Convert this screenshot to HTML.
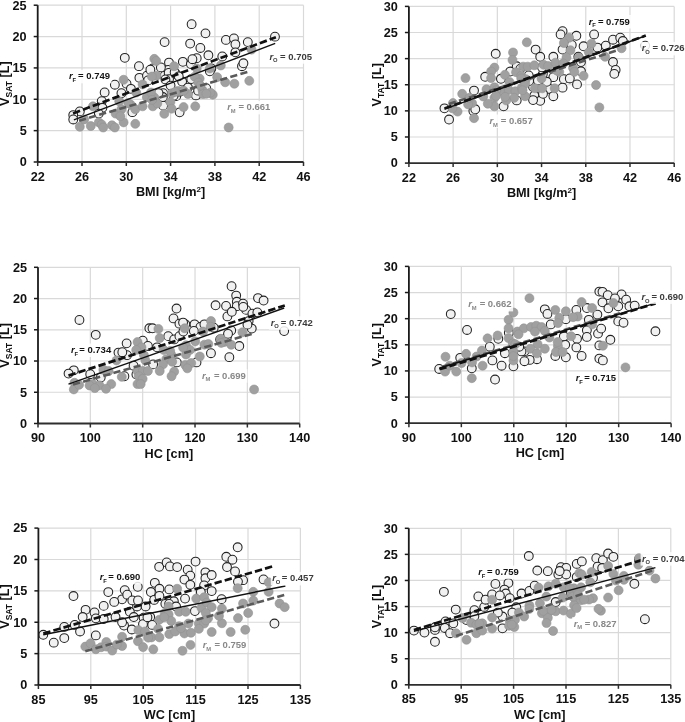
<!DOCTYPE html>
<html><head><meta charset="utf-8"><style>
html,body{margin:0;padding:0;background:#fff;}
body{width:685px;height:722px;overflow:hidden;}
svg{display:block;}
.t{font-family:"Liberation Sans",sans-serif;font-weight:bold;font-size:12.7px;fill:#111;}
.r{font-family:"Liberation Sans",sans-serif;font-weight:bold;font-size:9.5px;}
svg{will-change:transform;}
</style></head><body>
<svg width="685" height="722" viewBox="0 0 685 722">
<rect width="685" height="722" fill="#fff"/>
<line x1="37.7" y1="130.64" x2="303.5" y2="130.64" stroke="#d9d9d9" stroke-width="1.2"/>
<line x1="37.7" y1="99.28" x2="303.5" y2="99.28" stroke="#d9d9d9" stroke-width="1.2"/>
<line x1="37.7" y1="67.92" x2="303.5" y2="67.92" stroke="#d9d9d9" stroke-width="1.2"/>
<line x1="37.7" y1="36.56" x2="303.5" y2="36.56" stroke="#d9d9d9" stroke-width="1.2"/>
<line x1="37.7" y1="5.2" x2="303.5" y2="5.2" stroke="#d9d9d9" stroke-width="1.2"/>
<line x1="82" y1="162" x2="82" y2="5.2" stroke="#d9d9d9" stroke-width="1.2"/>
<line x1="126.3" y1="162" x2="126.3" y2="5.2" stroke="#d9d9d9" stroke-width="1.2"/>
<line x1="170.6" y1="162" x2="170.6" y2="5.2" stroke="#d9d9d9" stroke-width="1.2"/>
<line x1="214.9" y1="162" x2="214.9" y2="5.2" stroke="#d9d9d9" stroke-width="1.2"/>
<line x1="259.2" y1="162" x2="259.2" y2="5.2" stroke="#d9d9d9" stroke-width="1.2"/>
<line x1="303.5" y1="162" x2="303.5" y2="5.2" stroke="#d9d9d9" stroke-width="1.2"/>
<circle cx="124.79" cy="57.85" r="4.4" fill="#f1f1f1" stroke="#222" stroke-width="1.05"/>
<circle cx="138.95" cy="66.17" r="4.4" fill="#f1f1f1" stroke="#222" stroke-width="1.05"/>
<circle cx="152.82" cy="68.36" r="4.4" fill="#f1f1f1" stroke="#222" stroke-width="1.05"/>
<circle cx="139.39" cy="77.85" r="4.4" fill="#f1f1f1" stroke="#222" stroke-width="1.05"/>
<circle cx="146.98" cy="75.66" r="4.4" fill="#f1f1f1" stroke="#222" stroke-width="1.05"/>
<circle cx="114.86" cy="84.71" r="4.4" fill="#f1f1f1" stroke="#222" stroke-width="1.05"/>
<circle cx="104.64" cy="92.45" r="4.4" fill="#f1f1f1" stroke="#222" stroke-width="1.05"/>
<circle cx="121.43" cy="93.18" r="4.4" fill="#f1f1f1" stroke="#222" stroke-width="1.05"/>
<circle cx="126.54" cy="83.69" r="4.4" fill="#f1f1f1" stroke="#222" stroke-width="1.05"/>
<circle cx="130.92" cy="88.8" r="4.4" fill="#f1f1f1" stroke="#222" stroke-width="1.05"/>
<circle cx="101.72" cy="101.21" r="4.4" fill="#f1f1f1" stroke="#222" stroke-width="1.05"/>
<circle cx="102.45" cy="107.78" r="4.4" fill="#f1f1f1" stroke="#222" stroke-width="1.05"/>
<circle cx="79.82" cy="111.43" r="4.4" fill="#f1f1f1" stroke="#222" stroke-width="1.05"/>
<circle cx="73.25" cy="115.08" r="4.4" fill="#f1f1f1" stroke="#222" stroke-width="1.05"/>
<circle cx="73.25" cy="119.46" r="4.4" fill="#f1f1f1" stroke="#222" stroke-width="1.05"/>
<circle cx="98.8" cy="113.62" r="4.4" fill="#f1f1f1" stroke="#222" stroke-width="1.05"/>
<circle cx="132.38" cy="112.16" r="4.4" fill="#f1f1f1" stroke="#222" stroke-width="1.05"/>
<circle cx="191.61" cy="24.16" r="4.4" fill="#f1f1f1" stroke="#222" stroke-width="1.05"/>
<circle cx="205.48" cy="33.36" r="4.4" fill="#f1f1f1" stroke="#222" stroke-width="1.05"/>
<circle cx="164.6" cy="42.12" r="4.4" fill="#f1f1f1" stroke="#222" stroke-width="1.05"/>
<circle cx="190.15" cy="43.58" r="4.4" fill="#f1f1f1" stroke="#222" stroke-width="1.05"/>
<circle cx="200.37" cy="47.96" r="4.4" fill="#f1f1f1" stroke="#222" stroke-width="1.05"/>
<circle cx="225.92" cy="39.93" r="4.4" fill="#f1f1f1" stroke="#222" stroke-width="1.05"/>
<circle cx="233.95" cy="38.47" r="4.4" fill="#f1f1f1" stroke="#222" stroke-width="1.05"/>
<circle cx="235.41" cy="44.31" r="4.4" fill="#f1f1f1" stroke="#222" stroke-width="1.05"/>
<circle cx="247.82" cy="42.12" r="4.4" fill="#f1f1f1" stroke="#222" stroke-width="1.05"/>
<circle cx="235.41" cy="52.34" r="4.4" fill="#f1f1f1" stroke="#222" stroke-width="1.05"/>
<circle cx="222.27" cy="56.43" r="4.4" fill="#f1f1f1" stroke="#222" stroke-width="1.05"/>
<circle cx="208.4" cy="55.26" r="4.4" fill="#f1f1f1" stroke="#222" stroke-width="1.05"/>
<circle cx="196.72" cy="58.18" r="4.4" fill="#f1f1f1" stroke="#222" stroke-width="1.05"/>
<circle cx="182.85" cy="61.83" r="4.4" fill="#f1f1f1" stroke="#222" stroke-width="1.05"/>
<circle cx="168.98" cy="62.56" r="4.4" fill="#f1f1f1" stroke="#222" stroke-width="1.05"/>
<circle cx="155.84" cy="68.4" r="4.4" fill="#f1f1f1" stroke="#222" stroke-width="1.05"/>
<circle cx="168.25" cy="69.86" r="4.4" fill="#f1f1f1" stroke="#222" stroke-width="1.05"/>
<circle cx="190.88" cy="64.02" r="4.4" fill="#f1f1f1" stroke="#222" stroke-width="1.05"/>
<circle cx="211.32" cy="68.4" r="4.4" fill="#f1f1f1" stroke="#222" stroke-width="1.05"/>
<circle cx="209.86" cy="71.32" r="4.4" fill="#f1f1f1" stroke="#222" stroke-width="1.05"/>
<circle cx="241.98" cy="66.21" r="4.4" fill="#f1f1f1" stroke="#222" stroke-width="1.05"/>
<circle cx="243.44" cy="63.29" r="4.4" fill="#f1f1f1" stroke="#222" stroke-width="1.05"/>
<circle cx="182.12" cy="81.54" r="4.4" fill="#f1f1f1" stroke="#222" stroke-width="1.05"/>
<circle cx="193.8" cy="84.46" r="4.4" fill="#f1f1f1" stroke="#222" stroke-width="1.05"/>
<circle cx="198.18" cy="93.95" r="4.4" fill="#f1f1f1" stroke="#222" stroke-width="1.05"/>
<circle cx="206.21" cy="88.11" r="4.4" fill="#f1f1f1" stroke="#222" stroke-width="1.05"/>
<circle cx="176.28" cy="96.14" r="4.4" fill="#f1f1f1" stroke="#222" stroke-width="1.05"/>
<circle cx="163.14" cy="93.22" r="4.4" fill="#f1f1f1" stroke="#222" stroke-width="1.05"/>
<circle cx="163.14" cy="105.63" r="4.4" fill="#f1f1f1" stroke="#222" stroke-width="1.05"/>
<circle cx="176.28" cy="74.24" r="4.4" fill="#f1f1f1" stroke="#222" stroke-width="1.05"/>
<circle cx="164.6" cy="75.7" r="4.4" fill="#f1f1f1" stroke="#222" stroke-width="1.05"/>
<circle cx="274.96" cy="36.67" r="4.4" fill="#f1f1f1" stroke="#222" stroke-width="1.05"/>
<circle cx="179.64" cy="112.34" r="4.4" fill="#f1f1f1" stroke="#222" stroke-width="1.05"/>
<circle cx="162.85" cy="97.01" r="4.4" fill="#f1f1f1" stroke="#222" stroke-width="1.05"/>
<circle cx="168.69" cy="72.92" r="4.4" fill="#f1f1f1" stroke="#222" stroke-width="1.05"/>
<circle cx="192.42" cy="59.2" r="4.4" fill="#f1f1f1" stroke="#222" stroke-width="1.05"/>
<circle cx="150.37" cy="69.71" r="4.4" fill="#f1f1f1" stroke="#222" stroke-width="1.05"/>
<circle cx="160.88" cy="67.38" r="4.4" fill="#f1f1f1" stroke="#222" stroke-width="1.05"/>
<circle cx="169.06" cy="79.06" r="4.4" fill="#f1f1f1" stroke="#222" stroke-width="1.05"/>
<circle cx="191.25" cy="79.06" r="4.4" fill="#f1f1f1" stroke="#222" stroke-width="1.05"/>
<circle cx="195.92" cy="95.41" r="4.4" fill="#f1f1f1" stroke="#222" stroke-width="1.05"/>
<circle cx="158.54" cy="93.07" r="4.4" fill="#f1f1f1" stroke="#222" stroke-width="1.05"/>
<circle cx="174.64" cy="72.26" r="4.4" fill="#f1f1f1" stroke="#222" stroke-width="1.05"/>
<circle cx="178.73" cy="76.35" r="4.4" fill="#f1f1f1" stroke="#222" stroke-width="1.05"/>
<circle cx="198.14" cy="90.66" r="4.4" fill="#f1f1f1" stroke="#222" stroke-width="1.05"/>
<circle cx="165.44" cy="79.42" r="4.4" fill="#f1f1f1" stroke="#222" stroke-width="1.05"/>
<circle cx="173.62" cy="95.77" r="4.4" fill="#f1f1f1" stroke="#222" stroke-width="1.05"/>
<circle cx="179.75" cy="91.68" r="4.4" fill="#f1f1f1" stroke="#222" stroke-width="1.05"/>
<circle cx="148.07" cy="80.44" r="4.4" fill="#f1f1f1" stroke="#222" stroke-width="1.05"/>
<circle cx="170.55" cy="85.55" r="4.4" fill="#f1f1f1" stroke="#222" stroke-width="1.05"/>
<circle cx="187.92" cy="87.59" r="4.4" fill="#f1f1f1" stroke="#222" stroke-width="1.05"/>
<circle cx="123.62" cy="79.75" r="4.5" fill="#a0a0a0" stroke="#929292" stroke-width="0.6"/>
<circle cx="154.28" cy="58.87" r="4.5" fill="#a0a0a0" stroke="#929292" stroke-width="0.6"/>
<circle cx="142.6" cy="84.42" r="4.5" fill="#a0a0a0" stroke="#929292" stroke-width="0.6"/>
<circle cx="119.24" cy="101.21" r="4.5" fill="#a0a0a0" stroke="#929292" stroke-width="0.6"/>
<circle cx="115.59" cy="113.62" r="4.5" fill="#a0a0a0" stroke="#929292" stroke-width="0.6"/>
<circle cx="121.43" cy="109.24" r="4.5" fill="#a0a0a0" stroke="#929292" stroke-width="0.6"/>
<circle cx="130.92" cy="104.86" r="4.5" fill="#a0a0a0" stroke="#929292" stroke-width="0.6"/>
<circle cx="135.3" cy="109.24" r="4.5" fill="#a0a0a0" stroke="#929292" stroke-width="0.6"/>
<circle cx="142.6" cy="106.32" r="4.5" fill="#a0a0a0" stroke="#929292" stroke-width="0.6"/>
<circle cx="149.9" cy="97.56" r="4.5" fill="#a0a0a0" stroke="#929292" stroke-width="0.6"/>
<circle cx="152.82" cy="106.32" r="4.5" fill="#a0a0a0" stroke="#929292" stroke-width="0.6"/>
<circle cx="79.82" cy="126.76" r="4.5" fill="#a0a0a0" stroke="#929292" stroke-width="0.6"/>
<circle cx="90.77" cy="126.03" r="4.5" fill="#a0a0a0" stroke="#929292" stroke-width="0.6"/>
<circle cx="98.8" cy="122.38" r="4.5" fill="#a0a0a0" stroke="#929292" stroke-width="0.6"/>
<circle cx="101.72" cy="124.57" r="4.5" fill="#a0a0a0" stroke="#929292" stroke-width="0.6"/>
<circle cx="103.18" cy="127.49" r="4.5" fill="#a0a0a0" stroke="#929292" stroke-width="0.6"/>
<circle cx="111.94" cy="125.3" r="4.5" fill="#a0a0a0" stroke="#929292" stroke-width="0.6"/>
<circle cx="114.86" cy="127.49" r="4.5" fill="#a0a0a0" stroke="#929292" stroke-width="0.6"/>
<circle cx="123.62" cy="122.38" r="4.5" fill="#a0a0a0" stroke="#929292" stroke-width="0.6"/>
<circle cx="135.3" cy="123.84" r="4.5" fill="#a0a0a0" stroke="#929292" stroke-width="0.6"/>
<circle cx="92.96" cy="106.32" r="4.5" fill="#a0a0a0" stroke="#929292" stroke-width="0.6"/>
<circle cx="84.2" cy="119.46" r="4.5" fill="#a0a0a0" stroke="#929292" stroke-width="0.6"/>
<circle cx="174.09" cy="66.21" r="4.5" fill="#a0a0a0" stroke="#929292" stroke-width="0.6"/>
<circle cx="156.57" cy="75.7" r="4.5" fill="#a0a0a0" stroke="#929292" stroke-width="0.6"/>
<circle cx="196.72" cy="68.4" r="4.5" fill="#a0a0a0" stroke="#929292" stroke-width="0.6"/>
<circle cx="209.86" cy="68.4" r="4.5" fill="#a0a0a0" stroke="#929292" stroke-width="0.6"/>
<circle cx="220.81" cy="65.48" r="4.5" fill="#a0a0a0" stroke="#929292" stroke-width="0.6"/>
<circle cx="217.16" cy="77.16" r="4.5" fill="#a0a0a0" stroke="#929292" stroke-width="0.6"/>
<circle cx="225.19" cy="82.27" r="4.5" fill="#a0a0a0" stroke="#929292" stroke-width="0.6"/>
<circle cx="234.39" cy="83.73" r="4.5" fill="#a0a0a0" stroke="#929292" stroke-width="0.6"/>
<circle cx="249.28" cy="80.81" r="4.5" fill="#a0a0a0" stroke="#929292" stroke-width="0.6"/>
<circle cx="199.64" cy="78.62" r="4.5" fill="#a0a0a0" stroke="#929292" stroke-width="0.6"/>
<circle cx="202.56" cy="90.3" r="4.5" fill="#a0a0a0" stroke="#929292" stroke-width="0.6"/>
<circle cx="212.78" cy="94.68" r="4.5" fill="#a0a0a0" stroke="#929292" stroke-width="0.6"/>
<circle cx="187.96" cy="93.95" r="4.5" fill="#a0a0a0" stroke="#929292" stroke-width="0.6"/>
<circle cx="177.74" cy="91.03" r="4.5" fill="#a0a0a0" stroke="#929292" stroke-width="0.6"/>
<circle cx="171.9" cy="93.22" r="4.5" fill="#a0a0a0" stroke="#929292" stroke-width="0.6"/>
<circle cx="170.44" cy="101.98" r="4.5" fill="#a0a0a0" stroke="#929292" stroke-width="0.6"/>
<circle cx="183.58" cy="107.09" r="4.5" fill="#a0a0a0" stroke="#929292" stroke-width="0.6"/>
<circle cx="195.26" cy="106.36" r="4.5" fill="#a0a0a0" stroke="#929292" stroke-width="0.6"/>
<circle cx="154.38" cy="97.6" r="4.5" fill="#a0a0a0" stroke="#929292" stroke-width="0.6"/>
<circle cx="157.3" cy="103.44" r="4.5" fill="#a0a0a0" stroke="#929292" stroke-width="0.6"/>
<circle cx="251.53" cy="49.64" r="4.5" fill="#a0a0a0" stroke="#929292" stroke-width="0.6"/>
<circle cx="228.65" cy="127.49" r="4.5" fill="#a0a0a0" stroke="#929292" stroke-width="0.6"/>
<circle cx="164.31" cy="113.8" r="4.5" fill="#a0a0a0" stroke="#929292" stroke-width="0.6"/>
<circle cx="171.61" cy="108.69" r="4.5" fill="#a0a0a0" stroke="#929292" stroke-width="0.6"/>
<circle cx="203" cy="94.09" r="4.5" fill="#a0a0a0" stroke="#929292" stroke-width="0.6"/>
<circle cx="151.9" cy="76.57" r="4.5" fill="#a0a0a0" stroke="#929292" stroke-width="0.6"/>
<circle cx="175.26" cy="91.9" r="4.5" fill="#a0a0a0" stroke="#929292" stroke-width="0.6"/>
<circle cx="183.66" cy="90.74" r="4.5" fill="#a0a0a0" stroke="#929292" stroke-width="0.6"/>
<circle cx="194.75" cy="76.72" r="4.5" fill="#a0a0a0" stroke="#929292" stroke-width="0.6"/>
<circle cx="198.26" cy="82.56" r="4.5" fill="#a0a0a0" stroke="#929292" stroke-width="0.6"/>
<circle cx="146.86" cy="97.16" r="4.5" fill="#a0a0a0" stroke="#929292" stroke-width="0.6"/>
<circle cx="128.3" cy="103" r="4.5" fill="#a0a0a0" stroke="#929292" stroke-width="0.6"/>
<circle cx="136.2" cy="92.5" r="4.5" fill="#a0a0a0" stroke="#929292" stroke-width="0.6"/>
<circle cx="151.1" cy="92.5" r="4.5" fill="#a0a0a0" stroke="#929292" stroke-width="0.6"/>
<circle cx="120.4" cy="116.2" r="4.5" fill="#a0a0a0" stroke="#929292" stroke-width="0.6"/>
<circle cx="156.24" cy="61.02" r="4.5" fill="#a0a0a0" stroke="#929292" stroke-width="0.6"/>
<circle cx="200.19" cy="85.55" r="4.5" fill="#a0a0a0" stroke="#929292" stroke-width="0.6"/>
<circle cx="210.41" cy="92.7" r="4.5" fill="#a0a0a0" stroke="#929292" stroke-width="0.6"/>
<circle cx="206.32" cy="93.73" r="4.5" fill="#a0a0a0" stroke="#929292" stroke-width="0.6"/>
<circle cx="152.15" cy="99.86" r="4.5" fill="#a0a0a0" stroke="#929292" stroke-width="0.6"/>
<line x1="73.9" y1="119.9" x2="275.2" y2="43.4" stroke="#111" stroke-width="1.4"/>
<line x1="73.1" y1="113.4" x2="275.9" y2="37.2" stroke="#111" stroke-width="2.7" stroke-dasharray="7.4 3.1"/>
<line x1="79" y1="120.7" x2="248.2" y2="71.8" stroke="#5a5a5a" stroke-width="2.6" stroke-dasharray="7.2 3.3"/>
<line x1="37.7" y1="162" x2="303.5" y2="162" stroke="#2e2e2e" stroke-width="1.8"/>
<line x1="37.7" y1="162" x2="37.7" y2="5.2" stroke="#1a1a1a" stroke-width="1.8"/>
<line x1="33.7" y1="162" x2="37.7" y2="162" stroke="#1a1a1a" stroke-width="1.5"/>
<text x="26.7" y="166.3" text-anchor="end" class="t">0</text>
<line x1="33.7" y1="130.64" x2="37.7" y2="130.64" stroke="#1a1a1a" stroke-width="1.5"/>
<text x="26.7" y="134.94" text-anchor="end" class="t">5</text>
<line x1="33.7" y1="99.28" x2="37.7" y2="99.28" stroke="#1a1a1a" stroke-width="1.5"/>
<text x="26.7" y="103.58" text-anchor="end" class="t">10</text>
<line x1="33.7" y1="67.92" x2="37.7" y2="67.92" stroke="#1a1a1a" stroke-width="1.5"/>
<text x="26.7" y="72.22" text-anchor="end" class="t">15</text>
<line x1="33.7" y1="36.56" x2="37.7" y2="36.56" stroke="#1a1a1a" stroke-width="1.5"/>
<text x="26.7" y="40.86" text-anchor="end" class="t">20</text>
<line x1="33.7" y1="5.2" x2="37.7" y2="5.2" stroke="#1a1a1a" stroke-width="1.5"/>
<text x="26.7" y="9.5" text-anchor="end" class="t">25</text>
<line x1="37.7" y1="162" x2="37.7" y2="166" stroke="#2e2e2e" stroke-width="1.5"/>
<text x="37.7" y="180.6" text-anchor="middle" class="t">22</text>
<line x1="82" y1="162" x2="82" y2="166" stroke="#2e2e2e" stroke-width="1.5"/>
<text x="82" y="180.6" text-anchor="middle" class="t">26</text>
<line x1="126.3" y1="162" x2="126.3" y2="166" stroke="#2e2e2e" stroke-width="1.5"/>
<text x="126.3" y="180.6" text-anchor="middle" class="t">30</text>
<line x1="170.6" y1="162" x2="170.6" y2="166" stroke="#2e2e2e" stroke-width="1.5"/>
<text x="170.6" y="180.6" text-anchor="middle" class="t">34</text>
<line x1="214.9" y1="162" x2="214.9" y2="166" stroke="#2e2e2e" stroke-width="1.5"/>
<text x="214.9" y="180.6" text-anchor="middle" class="t">38</text>
<line x1="259.2" y1="162" x2="259.2" y2="166" stroke="#2e2e2e" stroke-width="1.5"/>
<text x="259.2" y="180.6" text-anchor="middle" class="t">42</text>
<line x1="303.5" y1="162" x2="303.5" y2="166" stroke="#2e2e2e" stroke-width="1.5"/>
<text x="303.5" y="180.6" text-anchor="middle" class="t">46</text>
<text x="170.6" y="196" text-anchor="middle" class="t">BMI [kg/m<tspan dy="-4" font-size="8">2</tspan><tspan dy="4">]</tspan></text>
<text transform="translate(8.6,83.6) rotate(-90)" text-anchor="middle" class="t">V<tspan font-size="8.5" dy="3">SAT</tspan><tspan dy="-3"> [L]</tspan></text>
<rect x="67.5" y="69.8" width="44" height="13.5" fill="#fff" fill-opacity="0.85"/>
<text x="69" y="79.3" class="r" fill="#141414" font-style="italic">r</text>
<text x="72.5" y="81.9" class="r" fill="#141414" style="font-size:5.8px">F</text>
<text x="110" y="79.3" class="r" fill="#141414" text-anchor="end">= 0.749</text>
<rect x="268.1" y="50.2" width="45.4" height="13.5" fill="#fff" fill-opacity="0.85"/>
<text x="269.6" y="59.7" class="r" fill="#3c3c3c" font-style="italic">r</text>
<text x="273.1" y="62.3" class="r" fill="#3c3c3c" style="font-size:5.8px">O</text>
<text x="312" y="59.7" class="r" fill="#3c3c3c" text-anchor="end">= 0.705</text>
<rect x="225.8" y="100.9" width="46.1" height="13.5" fill="#fff" fill-opacity="0.85"/>
<text x="227.3" y="110.4" class="r" fill="#888888" font-style="italic">r</text>
<text x="230.8" y="113" class="r" fill="#888888" style="font-size:5.8px">M</text>
<text x="270.4" y="110.4" class="r" fill="#888888" text-anchor="end">= 0.661</text>
<line x1="408.9" y1="136.98" x2="674.2" y2="136.98" stroke="#d9d9d9" stroke-width="1.2"/>
<line x1="408.9" y1="110.87" x2="674.2" y2="110.87" stroke="#d9d9d9" stroke-width="1.2"/>
<line x1="408.9" y1="84.75" x2="674.2" y2="84.75" stroke="#d9d9d9" stroke-width="1.2"/>
<line x1="408.9" y1="58.63" x2="674.2" y2="58.63" stroke="#d9d9d9" stroke-width="1.2"/>
<line x1="408.9" y1="32.52" x2="674.2" y2="32.52" stroke="#d9d9d9" stroke-width="1.2"/>
<line x1="408.9" y1="6.4" x2="674.2" y2="6.4" stroke="#d9d9d9" stroke-width="1.2"/>
<line x1="453.12" y1="163.1" x2="453.12" y2="6.4" stroke="#d9d9d9" stroke-width="1.2"/>
<line x1="497.33" y1="163.1" x2="497.33" y2="6.4" stroke="#d9d9d9" stroke-width="1.2"/>
<line x1="541.55" y1="163.1" x2="541.55" y2="6.4" stroke="#d9d9d9" stroke-width="1.2"/>
<line x1="585.77" y1="163.1" x2="585.77" y2="6.4" stroke="#d9d9d9" stroke-width="1.2"/>
<line x1="629.98" y1="163.1" x2="629.98" y2="6.4" stroke="#d9d9d9" stroke-width="1.2"/>
<line x1="674.2" y1="163.1" x2="674.2" y2="6.4" stroke="#d9d9d9" stroke-width="1.2"/>
<circle cx="495.7" cy="53.8" r="4.4" fill="#f1f1f1" stroke="#222" stroke-width="1.05"/>
<circle cx="485.19" cy="76.79" r="4.4" fill="#f1f1f1" stroke="#222" stroke-width="1.05"/>
<circle cx="500.96" cy="78.76" r="4.4" fill="#f1f1f1" stroke="#222" stroke-width="1.05"/>
<circle cx="474.02" cy="90.59" r="4.4" fill="#f1f1f1" stroke="#222" stroke-width="1.05"/>
<circle cx="444.45" cy="108.33" r="4.4" fill="#f1f1f1" stroke="#222" stroke-width="1.05"/>
<circle cx="449.05" cy="119.5" r="4.4" fill="#f1f1f1" stroke="#222" stroke-width="1.05"/>
<circle cx="473.36" cy="110.96" r="4.4" fill="#f1f1f1" stroke="#222" stroke-width="1.05"/>
<circle cx="503.58" cy="106.36" r="4.4" fill="#f1f1f1" stroke="#222" stroke-width="1.05"/>
<circle cx="516.72" cy="66.28" r="4.4" fill="#f1f1f1" stroke="#222" stroke-width="1.05"/>
<circle cx="510.15" cy="71.54" r="4.4" fill="#f1f1f1" stroke="#222" stroke-width="1.05"/>
<circle cx="516.72" cy="100.44" r="4.4" fill="#f1f1f1" stroke="#222" stroke-width="1.05"/>
<circle cx="562.56" cy="31.17" r="4.4" fill="#f1f1f1" stroke="#222" stroke-width="1.05"/>
<circle cx="560.59" cy="34.45" r="4.4" fill="#f1f1f1" stroke="#222" stroke-width="1.05"/>
<circle cx="576.36" cy="35.77" r="4.4" fill="#f1f1f1" stroke="#222" stroke-width="1.05"/>
<circle cx="594.1" cy="34.45" r="4.4" fill="#f1f1f1" stroke="#222" stroke-width="1.05"/>
<circle cx="535.62" cy="49.56" r="4.4" fill="#f1f1f1" stroke="#222" stroke-width="1.05"/>
<circle cx="540.22" cy="56.79" r="4.4" fill="#f1f1f1" stroke="#222" stroke-width="1.05"/>
<circle cx="553.36" cy="56.79" r="4.4" fill="#f1f1f1" stroke="#222" stroke-width="1.05"/>
<circle cx="571.76" cy="44.97" r="4.4" fill="#f1f1f1" stroke="#222" stroke-width="1.05"/>
<circle cx="562.56" cy="49.56" r="4.4" fill="#f1f1f1" stroke="#222" stroke-width="1.05"/>
<circle cx="583.58" cy="46.28" r="4.4" fill="#f1f1f1" stroke="#222" stroke-width="1.05"/>
<circle cx="597.38" cy="47.59" r="4.4" fill="#f1f1f1" stroke="#222" stroke-width="1.05"/>
<circle cx="578.33" cy="56.79" r="4.4" fill="#f1f1f1" stroke="#222" stroke-width="1.05"/>
<circle cx="580.96" cy="62.05" r="4.4" fill="#f1f1f1" stroke="#222" stroke-width="1.05"/>
<circle cx="520.51" cy="68.62" r="4.4" fill="#f1f1f1" stroke="#222" stroke-width="1.05"/>
<circle cx="542.85" cy="73.87" r="4.4" fill="#f1f1f1" stroke="#222" stroke-width="1.05"/>
<circle cx="553.36" cy="77.16" r="4.4" fill="#f1f1f1" stroke="#222" stroke-width="1.05"/>
<circle cx="563.87" cy="79.13" r="4.4" fill="#f1f1f1" stroke="#222" stroke-width="1.05"/>
<circle cx="569.79" cy="78.47" r="4.4" fill="#f1f1f1" stroke="#222" stroke-width="1.05"/>
<circle cx="577.01" cy="84.39" r="4.4" fill="#f1f1f1" stroke="#222" stroke-width="1.05"/>
<circle cx="562.56" cy="87.67" r="4.4" fill="#f1f1f1" stroke="#222" stroke-width="1.05"/>
<circle cx="549.42" cy="88.98" r="4.4" fill="#f1f1f1" stroke="#222" stroke-width="1.05"/>
<circle cx="553.36" cy="96.21" r="4.4" fill="#f1f1f1" stroke="#222" stroke-width="1.05"/>
<circle cx="534.31" cy="95.55" r="4.4" fill="#f1f1f1" stroke="#222" stroke-width="1.05"/>
<circle cx="540.22" cy="100.81" r="4.4" fill="#f1f1f1" stroke="#222" stroke-width="1.05"/>
<circle cx="580.96" cy="71.25" r="4.4" fill="#f1f1f1" stroke="#222" stroke-width="1.05"/>
<circle cx="546.79" cy="81.76" r="4.4" fill="#f1f1f1" stroke="#222" stroke-width="1.05"/>
<circle cx="605.77" cy="45.62" r="4.4" fill="#f1f1f1" stroke="#222" stroke-width="1.05"/>
<circle cx="613" cy="39.71" r="4.4" fill="#f1f1f1" stroke="#222" stroke-width="1.05"/>
<circle cx="620.22" cy="37.74" r="4.4" fill="#f1f1f1" stroke="#222" stroke-width="1.05"/>
<circle cx="622.85" cy="41.02" r="4.4" fill="#f1f1f1" stroke="#222" stroke-width="1.05"/>
<circle cx="613" cy="62.05" r="4.4" fill="#f1f1f1" stroke="#222" stroke-width="1.05"/>
<circle cx="615.62" cy="69.93" r="4.4" fill="#f1f1f1" stroke="#222" stroke-width="1.05"/>
<circle cx="614.31" cy="73.87" r="4.4" fill="#f1f1f1" stroke="#222" stroke-width="1.05"/>
<circle cx="645.19" cy="45.62" r="4.4" fill="#f1f1f1" stroke="#222" stroke-width="1.05"/>
<circle cx="533.07" cy="86.94" r="4.4" fill="#f1f1f1" stroke="#222" stroke-width="1.05"/>
<circle cx="533.07" cy="100.08" r="4.4" fill="#f1f1f1" stroke="#222" stroke-width="1.05"/>
<circle cx="475.26" cy="109.28" r="4.4" fill="#f1f1f1" stroke="#222" stroke-width="1.05"/>
<circle cx="529.13" cy="81.02" r="4.4" fill="#f1f1f1" stroke="#222" stroke-width="1.05"/>
<circle cx="542" cy="67.3" r="4.4" fill="#f1f1f1" stroke="#222" stroke-width="1.05"/>
<circle cx="543" cy="93.8" r="4.4" fill="#f1f1f1" stroke="#222" stroke-width="1.05"/>
<circle cx="528.7" cy="75.4" r="4.4" fill="#f1f1f1" stroke="#222" stroke-width="1.05"/>
<circle cx="537.9" cy="80.6" r="4.4" fill="#f1f1f1" stroke="#222" stroke-width="1.05"/>
<circle cx="513.04" cy="52.48" r="4.5" fill="#a0a0a0" stroke="#929292" stroke-width="0.6"/>
<circle cx="512.52" cy="59.97" r="4.5" fill="#a0a0a0" stroke="#929292" stroke-width="0.6"/>
<circle cx="494.39" cy="67.59" r="4.5" fill="#a0a0a0" stroke="#929292" stroke-width="0.6"/>
<circle cx="491.1" cy="71.54" r="4.5" fill="#a0a0a0" stroke="#929292" stroke-width="0.6"/>
<circle cx="491.1" cy="78.11" r="4.5" fill="#a0a0a0" stroke="#929292" stroke-width="0.6"/>
<circle cx="465.48" cy="78.11" r="4.5" fill="#a0a0a0" stroke="#929292" stroke-width="0.6"/>
<circle cx="462.19" cy="93.87" r="4.5" fill="#a0a0a0" stroke="#929292" stroke-width="0.6"/>
<circle cx="504.9" cy="74.82" r="4.5" fill="#a0a0a0" stroke="#929292" stroke-width="0.6"/>
<circle cx="509.5" cy="82.05" r="4.5" fill="#a0a0a0" stroke="#929292" stroke-width="0.6"/>
<circle cx="516.07" cy="72.19" r="4.5" fill="#a0a0a0" stroke="#929292" stroke-width="0.6"/>
<circle cx="486.5" cy="89.28" r="4.5" fill="#a0a0a0" stroke="#929292" stroke-width="0.6"/>
<circle cx="494.39" cy="87.3" r="4.5" fill="#a0a0a0" stroke="#929292" stroke-width="0.6"/>
<circle cx="500.96" cy="91.25" r="4.5" fill="#a0a0a0" stroke="#929292" stroke-width="0.6"/>
<circle cx="508.84" cy="89.93" r="4.5" fill="#a0a0a0" stroke="#929292" stroke-width="0.6"/>
<circle cx="515.41" cy="91.25" r="4.5" fill="#a0a0a0" stroke="#929292" stroke-width="0.6"/>
<circle cx="514.1" cy="97.82" r="4.5" fill="#a0a0a0" stroke="#929292" stroke-width="0.6"/>
<circle cx="506.21" cy="100.44" r="4.5" fill="#a0a0a0" stroke="#929292" stroke-width="0.6"/>
<circle cx="494.39" cy="97.82" r="4.5" fill="#a0a0a0" stroke="#929292" stroke-width="0.6"/>
<circle cx="494.39" cy="106.36" r="4.5" fill="#a0a0a0" stroke="#929292" stroke-width="0.6"/>
<circle cx="487.82" cy="103.73" r="4.5" fill="#a0a0a0" stroke="#929292" stroke-width="0.6"/>
<circle cx="483.22" cy="96.5" r="4.5" fill="#a0a0a0" stroke="#929292" stroke-width="0.6"/>
<circle cx="472.05" cy="103.07" r="4.5" fill="#a0a0a0" stroke="#929292" stroke-width="0.6"/>
<circle cx="468.11" cy="104.39" r="4.5" fill="#a0a0a0" stroke="#929292" stroke-width="0.6"/>
<circle cx="474.02" cy="118.18" r="4.5" fill="#a0a0a0" stroke="#929292" stroke-width="0.6"/>
<circle cx="457.59" cy="111.61" r="4.5" fill="#a0a0a0" stroke="#929292" stroke-width="0.6"/>
<circle cx="452.34" cy="108.33" r="4.5" fill="#a0a0a0" stroke="#929292" stroke-width="0.6"/>
<circle cx="453" cy="103.07" r="4.5" fill="#a0a0a0" stroke="#929292" stroke-width="0.6"/>
<circle cx="469.42" cy="97.82" r="4.5" fill="#a0a0a0" stroke="#929292" stroke-width="0.6"/>
<circle cx="526.82" cy="42.34" r="4.5" fill="#a0a0a0" stroke="#929292" stroke-width="0.6"/>
<circle cx="569.13" cy="37.74" r="4.5" fill="#a0a0a0" stroke="#929292" stroke-width="0.6"/>
<circle cx="563.87" cy="42.99" r="4.5" fill="#a0a0a0" stroke="#929292" stroke-width="0.6"/>
<circle cx="570.44" cy="50.22" r="4.5" fill="#a0a0a0" stroke="#929292" stroke-width="0.6"/>
<circle cx="566.5" cy="57.45" r="4.5" fill="#a0a0a0" stroke="#929292" stroke-width="0.6"/>
<circle cx="591.47" cy="43.65" r="4.5" fill="#a0a0a0" stroke="#929292" stroke-width="0.6"/>
<circle cx="588.84" cy="52.19" r="4.5" fill="#a0a0a0" stroke="#929292" stroke-width="0.6"/>
<circle cx="578.99" cy="57.45" r="4.5" fill="#a0a0a0" stroke="#929292" stroke-width="0.6"/>
<circle cx="523.14" cy="66.65" r="4.5" fill="#a0a0a0" stroke="#929292" stroke-width="0.6"/>
<circle cx="527.74" cy="66.65" r="4.5" fill="#a0a0a0" stroke="#929292" stroke-width="0.6"/>
<circle cx="534.31" cy="65.33" r="4.5" fill="#a0a0a0" stroke="#929292" stroke-width="0.6"/>
<circle cx="543.51" cy="64.68" r="4.5" fill="#a0a0a0" stroke="#929292" stroke-width="0.6"/>
<circle cx="548.11" cy="65.99" r="4.5" fill="#a0a0a0" stroke="#929292" stroke-width="0.6"/>
<circle cx="555.33" cy="62.7" r="4.5" fill="#a0a0a0" stroke="#929292" stroke-width="0.6"/>
<circle cx="563.22" cy="63.36" r="4.5" fill="#a0a0a0" stroke="#929292" stroke-width="0.6"/>
<circle cx="559.27" cy="71.9" r="4.5" fill="#a0a0a0" stroke="#929292" stroke-width="0.6"/>
<circle cx="573.07" cy="67.96" r="4.5" fill="#a0a0a0" stroke="#929292" stroke-width="0.6"/>
<circle cx="574.39" cy="71.9" r="4.5" fill="#a0a0a0" stroke="#929292" stroke-width="0.6"/>
<circle cx="583.58" cy="75.84" r="4.5" fill="#a0a0a0" stroke="#929292" stroke-width="0.6"/>
<circle cx="521.17" cy="75.84" r="4.5" fill="#a0a0a0" stroke="#929292" stroke-width="0.6"/>
<circle cx="525.77" cy="79.13" r="4.5" fill="#a0a0a0" stroke="#929292" stroke-width="0.6"/>
<circle cx="541.54" cy="78.47" r="4.5" fill="#a0a0a0" stroke="#929292" stroke-width="0.6"/>
<circle cx="534.97" cy="88.33" r="4.5" fill="#a0a0a0" stroke="#929292" stroke-width="0.6"/>
<circle cx="542.19" cy="88.33" r="4.5" fill="#a0a0a0" stroke="#929292" stroke-width="0.6"/>
<circle cx="554.68" cy="88.33" r="4.5" fill="#a0a0a0" stroke="#929292" stroke-width="0.6"/>
<circle cx="521.83" cy="87.67" r="4.5" fill="#a0a0a0" stroke="#929292" stroke-width="0.6"/>
<circle cx="525.11" cy="96.21" r="4.5" fill="#a0a0a0" stroke="#929292" stroke-width="0.6"/>
<circle cx="596.07" cy="85.04" r="4.5" fill="#a0a0a0" stroke="#929292" stroke-width="0.6"/>
<circle cx="599.35" cy="107.38" r="4.5" fill="#a0a0a0" stroke="#929292" stroke-width="0.6"/>
<circle cx="605.11" cy="56.79" r="4.5" fill="#a0a0a0" stroke="#929292" stroke-width="0.6"/>
<circle cx="621.54" cy="48.25" r="4.5" fill="#a0a0a0" stroke="#929292" stroke-width="0.6"/>
<circle cx="556.72" cy="70.51" r="4.5" fill="#a0a0a0" stroke="#929292" stroke-width="0.6"/>
<circle cx="521.25" cy="78.4" r="4.5" fill="#a0a0a0" stroke="#929292" stroke-width="0.6"/>
<circle cx="525.19" cy="83.65" r="4.5" fill="#a0a0a0" stroke="#929292" stroke-width="0.6"/>
<circle cx="496.28" cy="90.22" r="4.5" fill="#a0a0a0" stroke="#929292" stroke-width="0.6"/>
<circle cx="522.56" cy="90.22" r="4.5" fill="#a0a0a0" stroke="#929292" stroke-width="0.6"/>
<circle cx="505.2" cy="96.9" r="4.5" fill="#a0a0a0" stroke="#929292" stroke-width="0.6"/>
<circle cx="496" cy="95.9" r="4.5" fill="#a0a0a0" stroke="#929292" stroke-width="0.6"/>
<line x1="448.9" y1="104" x2="616" y2="50.7" stroke="#5a5a5a" stroke-width="2.6" stroke-dasharray="7.2 3.3"/>
<line x1="444.5" y1="109.1" x2="645" y2="36" stroke="#111" stroke-width="1.4"/>
<line x1="444.5" y1="108.5" x2="645.8" y2="35.5" stroke="#111" stroke-width="2.7" stroke-dasharray="7.4 3.1"/>
<line x1="408.9" y1="163.1" x2="674.2" y2="163.1" stroke="#2e2e2e" stroke-width="1.8"/>
<line x1="408.9" y1="163.1" x2="408.9" y2="6.4" stroke="#1a1a1a" stroke-width="1.8"/>
<line x1="404.9" y1="163.1" x2="408.9" y2="163.1" stroke="#1a1a1a" stroke-width="1.5"/>
<text x="397.9" y="167.4" text-anchor="end" class="t">0</text>
<line x1="404.9" y1="136.98" x2="408.9" y2="136.98" stroke="#1a1a1a" stroke-width="1.5"/>
<text x="397.9" y="141.28" text-anchor="end" class="t">5</text>
<line x1="404.9" y1="110.87" x2="408.9" y2="110.87" stroke="#1a1a1a" stroke-width="1.5"/>
<text x="397.9" y="115.17" text-anchor="end" class="t">10</text>
<line x1="404.9" y1="84.75" x2="408.9" y2="84.75" stroke="#1a1a1a" stroke-width="1.5"/>
<text x="397.9" y="89.05" text-anchor="end" class="t">15</text>
<line x1="404.9" y1="58.63" x2="408.9" y2="58.63" stroke="#1a1a1a" stroke-width="1.5"/>
<text x="397.9" y="62.93" text-anchor="end" class="t">20</text>
<line x1="404.9" y1="32.52" x2="408.9" y2="32.52" stroke="#1a1a1a" stroke-width="1.5"/>
<text x="397.9" y="36.82" text-anchor="end" class="t">25</text>
<line x1="404.9" y1="6.4" x2="408.9" y2="6.4" stroke="#1a1a1a" stroke-width="1.5"/>
<text x="397.9" y="10.7" text-anchor="end" class="t">30</text>
<line x1="408.9" y1="163.1" x2="408.9" y2="167.1" stroke="#2e2e2e" stroke-width="1.5"/>
<text x="408.9" y="181.7" text-anchor="middle" class="t">22</text>
<line x1="453.12" y1="163.1" x2="453.12" y2="167.1" stroke="#2e2e2e" stroke-width="1.5"/>
<text x="453.12" y="181.7" text-anchor="middle" class="t">26</text>
<line x1="497.33" y1="163.1" x2="497.33" y2="167.1" stroke="#2e2e2e" stroke-width="1.5"/>
<text x="497.33" y="181.7" text-anchor="middle" class="t">30</text>
<line x1="541.55" y1="163.1" x2="541.55" y2="167.1" stroke="#2e2e2e" stroke-width="1.5"/>
<text x="541.55" y="181.7" text-anchor="middle" class="t">34</text>
<line x1="585.77" y1="163.1" x2="585.77" y2="167.1" stroke="#2e2e2e" stroke-width="1.5"/>
<text x="585.77" y="181.7" text-anchor="middle" class="t">38</text>
<line x1="629.98" y1="163.1" x2="629.98" y2="167.1" stroke="#2e2e2e" stroke-width="1.5"/>
<text x="629.98" y="181.7" text-anchor="middle" class="t">42</text>
<line x1="674.2" y1="163.1" x2="674.2" y2="167.1" stroke="#2e2e2e" stroke-width="1.5"/>
<text x="674.2" y="181.7" text-anchor="middle" class="t">46</text>
<text x="541.55" y="197.1" text-anchor="middle" class="t">BMI [kg/m<tspan dy="-4" font-size="8">2</tspan><tspan dy="4">]</tspan></text>
<text transform="translate(381,84.75) rotate(-90)" text-anchor="middle" class="t">V<tspan font-size="8.5" dy="3">TAT</tspan><tspan dy="-3"> [L]</tspan></text>
<rect x="587.3" y="15" width="44.1" height="13.5" fill="#fff" fill-opacity="0.85"/>
<text x="588.8" y="24.5" class="r" fill="#141414" font-style="italic">r</text>
<text x="592.3" y="27.1" class="r" fill="#141414" style="font-size:5.8px">F</text>
<text x="629.9" y="24.5" class="r" fill="#141414" text-anchor="end">= 0.759</text>
<rect x="640.3" y="41.9" width="45.7" height="13.5" fill="#fff" fill-opacity="0.85"/>
<text x="641.8" y="51.4" class="r" fill="#3c3c3c" font-style="italic">r</text>
<text x="645.3" y="54" class="r" fill="#3c3c3c" style="font-size:5.8px">O</text>
<text x="684.5" y="51.4" class="r" fill="#3c3c3c" text-anchor="end">= 0.726</text>
<rect x="488" y="114.5" width="46.2" height="13.5" fill="#fff" fill-opacity="0.85"/>
<text x="489.5" y="124" class="r" fill="#888888" font-style="italic">r</text>
<text x="493" y="126.6" class="r" fill="#888888" style="font-size:5.8px">M</text>
<text x="532.7" y="124" class="r" fill="#888888" text-anchor="end">= 0.657</text>
<line x1="38" y1="392.26" x2="299.7" y2="392.26" stroke="#d9d9d9" stroke-width="1.2"/>
<line x1="38" y1="361.02" x2="299.7" y2="361.02" stroke="#d9d9d9" stroke-width="1.2"/>
<line x1="38" y1="329.78" x2="299.7" y2="329.78" stroke="#d9d9d9" stroke-width="1.2"/>
<line x1="38" y1="298.54" x2="299.7" y2="298.54" stroke="#d9d9d9" stroke-width="1.2"/>
<line x1="38" y1="267.3" x2="299.7" y2="267.3" stroke="#d9d9d9" stroke-width="1.2"/>
<line x1="90.34" y1="423.5" x2="90.34" y2="267.3" stroke="#d9d9d9" stroke-width="1.2"/>
<line x1="142.68" y1="423.5" x2="142.68" y2="267.3" stroke="#d9d9d9" stroke-width="1.2"/>
<line x1="195.02" y1="423.5" x2="195.02" y2="267.3" stroke="#d9d9d9" stroke-width="1.2"/>
<line x1="247.36" y1="423.5" x2="247.36" y2="267.3" stroke="#d9d9d9" stroke-width="1.2"/>
<line x1="299.7" y1="423.5" x2="299.7" y2="267.3" stroke="#d9d9d9" stroke-width="1.2"/>
<circle cx="79.45" cy="319.97" r="4.4" fill="#f1f1f1" stroke="#222" stroke-width="1.05"/>
<circle cx="95.74" cy="334.82" r="4.4" fill="#f1f1f1" stroke="#222" stroke-width="1.05"/>
<circle cx="149.35" cy="328.25" r="4.4" fill="#f1f1f1" stroke="#222" stroke-width="1.05"/>
<circle cx="126.62" cy="343.36" r="4.4" fill="#f1f1f1" stroke="#222" stroke-width="1.05"/>
<circle cx="142.78" cy="340.73" r="4.4" fill="#f1f1f1" stroke="#222" stroke-width="1.05"/>
<circle cx="118.47" cy="352.56" r="4.4" fill="#f1f1f1" stroke="#222" stroke-width="1.05"/>
<circle cx="127.01" cy="355.19" r="4.4" fill="#f1f1f1" stroke="#222" stroke-width="1.05"/>
<circle cx="73.8" cy="370.3" r="4.4" fill="#f1f1f1" stroke="#222" stroke-width="1.05"/>
<circle cx="68.54" cy="373.58" r="4.4" fill="#f1f1f1" stroke="#222" stroke-width="1.05"/>
<circle cx="90.22" cy="374.24" r="4.4" fill="#f1f1f1" stroke="#222" stroke-width="1.05"/>
<circle cx="100.73" cy="377.53" r="4.4" fill="#f1f1f1" stroke="#222" stroke-width="1.05"/>
<circle cx="124.39" cy="376.21" r="4.4" fill="#f1f1f1" stroke="#222" stroke-width="1.05"/>
<circle cx="133.58" cy="365.7" r="4.4" fill="#f1f1f1" stroke="#222" stroke-width="1.05"/>
<circle cx="176.53" cy="308.54" r="4.4" fill="#f1f1f1" stroke="#222" stroke-width="1.05"/>
<circle cx="173.51" cy="318.4" r="4.4" fill="#f1f1f1" stroke="#222" stroke-width="1.05"/>
<circle cx="179.42" cy="323.65" r="4.4" fill="#f1f1f1" stroke="#222" stroke-width="1.05"/>
<circle cx="185.33" cy="324.31" r="4.4" fill="#f1f1f1" stroke="#222" stroke-width="1.05"/>
<circle cx="194.53" cy="324.31" r="4.4" fill="#f1f1f1" stroke="#222" stroke-width="1.05"/>
<circle cx="200.44" cy="326.94" r="4.4" fill="#f1f1f1" stroke="#222" stroke-width="1.05"/>
<circle cx="204.39" cy="324.31" r="4.4" fill="#f1f1f1" stroke="#222" stroke-width="1.05"/>
<circle cx="215.56" cy="305.26" r="4.4" fill="#f1f1f1" stroke="#222" stroke-width="1.05"/>
<circle cx="226.07" cy="305.91" r="4.4" fill="#f1f1f1" stroke="#222" stroke-width="1.05"/>
<circle cx="227.38" cy="316.43" r="4.4" fill="#f1f1f1" stroke="#222" stroke-width="1.05"/>
<circle cx="152.48" cy="328.25" r="4.4" fill="#f1f1f1" stroke="#222" stroke-width="1.05"/>
<circle cx="168.25" cy="336.13" r="4.4" fill="#f1f1f1" stroke="#222" stroke-width="1.05"/>
<circle cx="174.16" cy="339.42" r="4.4" fill="#f1f1f1" stroke="#222" stroke-width="1.05"/>
<circle cx="179.42" cy="336.13" r="4.4" fill="#f1f1f1" stroke="#222" stroke-width="1.05"/>
<circle cx="183.36" cy="331.54" r="4.4" fill="#f1f1f1" stroke="#222" stroke-width="1.05"/>
<circle cx="193.87" cy="330.88" r="4.4" fill="#f1f1f1" stroke="#222" stroke-width="1.05"/>
<circle cx="147.88" cy="345.99" r="4.4" fill="#f1f1f1" stroke="#222" stroke-width="1.05"/>
<circle cx="157.08" cy="347.3" r="4.4" fill="#f1f1f1" stroke="#222" stroke-width="1.05"/>
<circle cx="210.96" cy="353.22" r="4.4" fill="#f1f1f1" stroke="#222" stroke-width="1.05"/>
<circle cx="229.35" cy="357.16" r="4.4" fill="#f1f1f1" stroke="#222" stroke-width="1.05"/>
<circle cx="196.5" cy="362.41" r="4.4" fill="#f1f1f1" stroke="#222" stroke-width="1.05"/>
<circle cx="176.79" cy="362.41" r="4.4" fill="#f1f1f1" stroke="#222" stroke-width="1.05"/>
<circle cx="153.14" cy="364.39" r="4.4" fill="#f1f1f1" stroke="#222" stroke-width="1.05"/>
<circle cx="220.15" cy="339.42" r="4.4" fill="#f1f1f1" stroke="#222" stroke-width="1.05"/>
<circle cx="231.57" cy="286.21" r="4.4" fill="#f1f1f1" stroke="#222" stroke-width="1.05"/>
<circle cx="236.18" cy="295.56" r="4.4" fill="#f1f1f1" stroke="#222" stroke-width="1.05"/>
<circle cx="257.99" cy="298.05" r="4.4" fill="#f1f1f1" stroke="#222" stroke-width="1.05"/>
<circle cx="263.59" cy="300.54" r="4.4" fill="#f1f1f1" stroke="#222" stroke-width="1.05"/>
<circle cx="236.81" cy="301.79" r="4.4" fill="#f1f1f1" stroke="#222" stroke-width="1.05"/>
<circle cx="236.81" cy="306.15" r="4.4" fill="#f1f1f1" stroke="#222" stroke-width="1.05"/>
<circle cx="243.03" cy="303.66" r="4.4" fill="#f1f1f1" stroke="#222" stroke-width="1.05"/>
<circle cx="246.15" cy="309.89" r="4.4" fill="#f1f1f1" stroke="#222" stroke-width="1.05"/>
<circle cx="231.82" cy="311.76" r="4.4" fill="#f1f1f1" stroke="#222" stroke-width="1.05"/>
<circle cx="252.38" cy="313.63" r="4.4" fill="#f1f1f1" stroke="#222" stroke-width="1.05"/>
<circle cx="257.36" cy="312.38" r="4.4" fill="#f1f1f1" stroke="#222" stroke-width="1.05"/>
<circle cx="248.64" cy="321.1" r="4.4" fill="#f1f1f1" stroke="#222" stroke-width="1.05"/>
<circle cx="251.76" cy="328.58" r="4.4" fill="#f1f1f1" stroke="#222" stroke-width="1.05"/>
<circle cx="231.2" cy="330.45" r="4.4" fill="#f1f1f1" stroke="#222" stroke-width="1.05"/>
<circle cx="226.84" cy="337.3" r="4.4" fill="#f1f1f1" stroke="#222" stroke-width="1.05"/>
<circle cx="239.3" cy="346.02" r="4.4" fill="#f1f1f1" stroke="#222" stroke-width="1.05"/>
<circle cx="284.15" cy="331.07" r="4.4" fill="#f1f1f1" stroke="#222" stroke-width="1.05"/>
<circle cx="243.26" cy="306.86" r="4.4" fill="#f1f1f1" stroke="#222" stroke-width="1.05"/>
<circle cx="122.3" cy="352.2" r="4.4" fill="#f1f1f1" stroke="#222" stroke-width="1.05"/>
<circle cx="136.4" cy="374.4" r="4.4" fill="#f1f1f1" stroke="#222" stroke-width="1.05"/>
<circle cx="183.07" cy="322.59" r="4.4" fill="#f1f1f1" stroke="#222" stroke-width="1.05"/>
<circle cx="228.03" cy="333.84" r="4.4" fill="#f1f1f1" stroke="#222" stroke-width="1.05"/>
<circle cx="247.45" cy="324.64" r="4.4" fill="#f1f1f1" stroke="#222" stroke-width="1.05"/>
<circle cx="213.73" cy="327.7" r="4.4" fill="#f1f1f1" stroke="#222" stroke-width="1.05"/>
<circle cx="137.53" cy="342.05" r="4.5" fill="#a0a0a0" stroke="#929292" stroke-width="0.6"/>
<circle cx="141.47" cy="347.3" r="4.5" fill="#a0a0a0" stroke="#929292" stroke-width="0.6"/>
<circle cx="136.21" cy="349.93" r="4.5" fill="#a0a0a0" stroke="#929292" stroke-width="0.6"/>
<circle cx="116.5" cy="360.44" r="4.5" fill="#a0a0a0" stroke="#929292" stroke-width="0.6"/>
<circle cx="103.36" cy="369.64" r="4.5" fill="#a0a0a0" stroke="#929292" stroke-width="0.6"/>
<circle cx="108.62" cy="370.96" r="4.5" fill="#a0a0a0" stroke="#929292" stroke-width="0.6"/>
<circle cx="121.76" cy="376.87" r="4.5" fill="#a0a0a0" stroke="#929292" stroke-width="0.6"/>
<circle cx="137.53" cy="370.96" r="4.5" fill="#a0a0a0" stroke="#929292" stroke-width="0.6"/>
<circle cx="142.78" cy="370.96" r="4.5" fill="#a0a0a0" stroke="#929292" stroke-width="0.6"/>
<circle cx="138.84" cy="376.21" r="4.5" fill="#a0a0a0" stroke="#929292" stroke-width="0.6"/>
<circle cx="137.53" cy="384.1" r="4.5" fill="#a0a0a0" stroke="#929292" stroke-width="0.6"/>
<circle cx="74.45" cy="382.78" r="4.5" fill="#a0a0a0" stroke="#929292" stroke-width="0.6"/>
<circle cx="92.85" cy="384.1" r="4.5" fill="#a0a0a0" stroke="#929292" stroke-width="0.6"/>
<circle cx="99.42" cy="385.41" r="4.5" fill="#a0a0a0" stroke="#929292" stroke-width="0.6"/>
<circle cx="111.25" cy="384.1" r="4.5" fill="#a0a0a0" stroke="#929292" stroke-width="0.6"/>
<circle cx="145.41" cy="360.44" r="4.5" fill="#a0a0a0" stroke="#929292" stroke-width="0.6"/>
<circle cx="73.8" cy="389.42" r="4.5" fill="#a0a0a0" stroke="#929292" stroke-width="0.6"/>
<circle cx="79.05" cy="384.82" r="4.5" fill="#a0a0a0" stroke="#929292" stroke-width="0.6"/>
<circle cx="89.56" cy="385.48" r="4.5" fill="#a0a0a0" stroke="#929292" stroke-width="0.6"/>
<circle cx="94.82" cy="388.11" r="4.5" fill="#a0a0a0" stroke="#929292" stroke-width="0.6"/>
<circle cx="105.99" cy="388.76" r="4.5" fill="#a0a0a0" stroke="#929292" stroke-width="0.6"/>
<circle cx="158.4" cy="328.91" r="4.5" fill="#a0a0a0" stroke="#929292" stroke-width="0.6"/>
<circle cx="184.68" cy="328.25" r="4.5" fill="#a0a0a0" stroke="#929292" stroke-width="0.6"/>
<circle cx="159.71" cy="338.11" r="4.5" fill="#a0a0a0" stroke="#929292" stroke-width="0.6"/>
<circle cx="210.96" cy="321.02" r="4.5" fill="#a0a0a0" stroke="#929292" stroke-width="0.6"/>
<circle cx="203.07" cy="331.54" r="4.5" fill="#a0a0a0" stroke="#929292" stroke-width="0.6"/>
<circle cx="195.19" cy="341.39" r="4.5" fill="#a0a0a0" stroke="#929292" stroke-width="0.6"/>
<circle cx="204.39" cy="344.68" r="4.5" fill="#a0a0a0" stroke="#929292" stroke-width="0.6"/>
<circle cx="208.33" cy="344.02" r="4.5" fill="#a0a0a0" stroke="#929292" stroke-width="0.6"/>
<circle cx="220.81" cy="338.76" r="4.5" fill="#a0a0a0" stroke="#929292" stroke-width="0.6"/>
<circle cx="224.1" cy="342.05" r="4.5" fill="#a0a0a0" stroke="#929292" stroke-width="0.6"/>
<circle cx="185.99" cy="345.33" r="4.5" fill="#a0a0a0" stroke="#929292" stroke-width="0.6"/>
<circle cx="185.99" cy="354.53" r="4.5" fill="#a0a0a0" stroke="#929292" stroke-width="0.6"/>
<circle cx="199.79" cy="356.5" r="4.5" fill="#a0a0a0" stroke="#929292" stroke-width="0.6"/>
<circle cx="163.65" cy="349.93" r="4.5" fill="#a0a0a0" stroke="#929292" stroke-width="0.6"/>
<circle cx="171.54" cy="355.19" r="4.5" fill="#a0a0a0" stroke="#929292" stroke-width="0.6"/>
<circle cx="143.94" cy="355.19" r="4.5" fill="#a0a0a0" stroke="#929292" stroke-width="0.6"/>
<circle cx="166.28" cy="359.13" r="4.5" fill="#a0a0a0" stroke="#929292" stroke-width="0.6"/>
<circle cx="163" cy="364.39" r="4.5" fill="#a0a0a0" stroke="#929292" stroke-width="0.6"/>
<circle cx="172.19" cy="361.76" r="4.5" fill="#a0a0a0" stroke="#929292" stroke-width="0.6"/>
<circle cx="185.33" cy="365.04" r="4.5" fill="#a0a0a0" stroke="#929292" stroke-width="0.6"/>
<circle cx="191.25" cy="363.07" r="4.5" fill="#a0a0a0" stroke="#929292" stroke-width="0.6"/>
<circle cx="187.3" cy="368.33" r="4.5" fill="#a0a0a0" stroke="#929292" stroke-width="0.6"/>
<circle cx="159.71" cy="370.96" r="4.5" fill="#a0a0a0" stroke="#929292" stroke-width="0.6"/>
<circle cx="174.16" cy="371.61" r="4.5" fill="#a0a0a0" stroke="#929292" stroke-width="0.6"/>
<circle cx="171.54" cy="376.21" r="4.5" fill="#a0a0a0" stroke="#929292" stroke-width="0.6"/>
<circle cx="147.88" cy="370.96" r="4.5" fill="#a0a0a0" stroke="#929292" stroke-width="0.6"/>
<circle cx="142.63" cy="378.84" r="4.5" fill="#a0a0a0" stroke="#929292" stroke-width="0.6"/>
<circle cx="140.66" cy="384.1" r="4.5" fill="#a0a0a0" stroke="#929292" stroke-width="0.6"/>
<circle cx="242.41" cy="332.32" r="4.5" fill="#a0a0a0" stroke="#929292" stroke-width="0.6"/>
<circle cx="221.23" cy="342.91" r="4.5" fill="#a0a0a0" stroke="#929292" stroke-width="0.6"/>
<circle cx="231.2" cy="344.78" r="4.5" fill="#a0a0a0" stroke="#929292" stroke-width="0.6"/>
<circle cx="254.1" cy="389.5" r="4.5" fill="#a0a0a0" stroke="#929292" stroke-width="0.6"/>
<circle cx="170.2" cy="351" r="4.5" fill="#a0a0a0" stroke="#929292" stroke-width="0.6"/>
<circle cx="190.1" cy="349.9" r="4.5" fill="#a0a0a0" stroke="#929292" stroke-width="0.6"/>
<circle cx="183.1" cy="347.5" r="4.5" fill="#a0a0a0" stroke="#929292" stroke-width="0.6"/>
<circle cx="210.66" cy="326.68" r="4.5" fill="#a0a0a0" stroke="#929292" stroke-width="0.6"/>
<line x1="68.5" y1="384.1" x2="284.2" y2="308" stroke="#111" stroke-width="1.4"/>
<line x1="68.5" y1="375.6" x2="284.8" y2="305.5" stroke="#111" stroke-width="2.7" stroke-dasharray="7.4 3.1"/>
<line x1="73" y1="384.5" x2="253" y2="333.6" stroke="#5a5a5a" stroke-width="2.6" stroke-dasharray="7.2 3.3"/>
<line x1="38" y1="423.5" x2="299.7" y2="423.5" stroke="#2e2e2e" stroke-width="1.8"/>
<line x1="38" y1="423.5" x2="38" y2="267.3" stroke="#1a1a1a" stroke-width="1.8"/>
<line x1="34" y1="423.5" x2="38" y2="423.5" stroke="#1a1a1a" stroke-width="1.5"/>
<text x="27" y="427.8" text-anchor="end" class="t">0</text>
<line x1="34" y1="392.26" x2="38" y2="392.26" stroke="#1a1a1a" stroke-width="1.5"/>
<text x="27" y="396.56" text-anchor="end" class="t">5</text>
<line x1="34" y1="361.02" x2="38" y2="361.02" stroke="#1a1a1a" stroke-width="1.5"/>
<text x="27" y="365.32" text-anchor="end" class="t">10</text>
<line x1="34" y1="329.78" x2="38" y2="329.78" stroke="#1a1a1a" stroke-width="1.5"/>
<text x="27" y="334.08" text-anchor="end" class="t">15</text>
<line x1="34" y1="298.54" x2="38" y2="298.54" stroke="#1a1a1a" stroke-width="1.5"/>
<text x="27" y="302.84" text-anchor="end" class="t">20</text>
<line x1="34" y1="267.3" x2="38" y2="267.3" stroke="#1a1a1a" stroke-width="1.5"/>
<text x="27" y="271.6" text-anchor="end" class="t">25</text>
<line x1="38" y1="423.5" x2="38" y2="427.5" stroke="#2e2e2e" stroke-width="1.5"/>
<text x="38" y="442.1" text-anchor="middle" class="t">90</text>
<line x1="90.34" y1="423.5" x2="90.34" y2="427.5" stroke="#2e2e2e" stroke-width="1.5"/>
<text x="90.34" y="442.1" text-anchor="middle" class="t">100</text>
<line x1="142.68" y1="423.5" x2="142.68" y2="427.5" stroke="#2e2e2e" stroke-width="1.5"/>
<text x="142.68" y="442.1" text-anchor="middle" class="t">110</text>
<line x1="195.02" y1="423.5" x2="195.02" y2="427.5" stroke="#2e2e2e" stroke-width="1.5"/>
<text x="195.02" y="442.1" text-anchor="middle" class="t">120</text>
<line x1="247.36" y1="423.5" x2="247.36" y2="427.5" stroke="#2e2e2e" stroke-width="1.5"/>
<text x="247.36" y="442.1" text-anchor="middle" class="t">130</text>
<line x1="299.7" y1="423.5" x2="299.7" y2="427.5" stroke="#2e2e2e" stroke-width="1.5"/>
<text x="299.7" y="442.1" text-anchor="middle" class="t">140</text>
<text x="168.85" y="457.5" text-anchor="middle" class="t">HC [cm]</text>
<text transform="translate(8.6,345.4) rotate(-90)" text-anchor="middle" class="t">V<tspan font-size="8.5" dy="3">SAT</tspan><tspan dy="-3"> [L]</tspan></text>
<rect x="69.5" y="343.5" width="43.2" height="13.5" fill="#fff" fill-opacity="0.85"/>
<text x="71" y="353" class="r" fill="#141414" font-style="italic">r</text>
<text x="74.5" y="355.6" class="r" fill="#141414" style="font-size:5.8px">F</text>
<text x="111.2" y="353" class="r" fill="#141414" text-anchor="end">= 0.734</text>
<rect x="269.2" y="316.3" width="45.1" height="13.5" fill="#fff" fill-opacity="0.85"/>
<text x="270.7" y="325.8" class="r" fill="#3c3c3c" font-style="italic">r</text>
<text x="274.2" y="328.4" class="r" fill="#3c3c3c" style="font-size:5.8px">O</text>
<text x="312.8" y="325.8" class="r" fill="#3c3c3c" text-anchor="end">= 0.742</text>
<rect x="200.5" y="369.2" width="46.9" height="13.5" fill="#fff" fill-opacity="0.85"/>
<text x="202" y="378.7" class="r" fill="#888888" font-style="italic">r</text>
<text x="205.5" y="381.3" class="r" fill="#888888" style="font-size:5.8px">M</text>
<text x="245.9" y="378.7" class="r" fill="#888888" text-anchor="end">= 0.699</text>
<line x1="408.9" y1="397.07" x2="671.1" y2="397.07" stroke="#d9d9d9" stroke-width="1.2"/>
<line x1="408.9" y1="370.93" x2="671.1" y2="370.93" stroke="#d9d9d9" stroke-width="1.2"/>
<line x1="408.9" y1="344.8" x2="671.1" y2="344.8" stroke="#d9d9d9" stroke-width="1.2"/>
<line x1="408.9" y1="318.67" x2="671.1" y2="318.67" stroke="#d9d9d9" stroke-width="1.2"/>
<line x1="408.9" y1="292.53" x2="671.1" y2="292.53" stroke="#d9d9d9" stroke-width="1.2"/>
<line x1="408.9" y1="266.4" x2="671.1" y2="266.4" stroke="#d9d9d9" stroke-width="1.2"/>
<line x1="461.34" y1="423.2" x2="461.34" y2="266.4" stroke="#d9d9d9" stroke-width="1.2"/>
<line x1="513.78" y1="423.2" x2="513.78" y2="266.4" stroke="#d9d9d9" stroke-width="1.2"/>
<line x1="566.22" y1="423.2" x2="566.22" y2="266.4" stroke="#d9d9d9" stroke-width="1.2"/>
<line x1="618.66" y1="423.2" x2="618.66" y2="266.4" stroke="#d9d9d9" stroke-width="1.2"/>
<line x1="671.1" y1="423.2" x2="671.1" y2="266.4" stroke="#d9d9d9" stroke-width="1.2"/>
<circle cx="450.76" cy="314.06" r="4.4" fill="#f1f1f1" stroke="#222" stroke-width="1.05"/>
<circle cx="467.05" cy="329.96" r="4.4" fill="#f1f1f1" stroke="#222" stroke-width="1.05"/>
<circle cx="439.2" cy="368.99" r="4.4" fill="#f1f1f1" stroke="#222" stroke-width="1.05"/>
<circle cx="460.22" cy="357.82" r="4.4" fill="#f1f1f1" stroke="#222" stroke-width="1.05"/>
<circle cx="471.79" cy="368.33" r="4.4" fill="#f1f1f1" stroke="#222" stroke-width="1.05"/>
<circle cx="492.41" cy="360.44" r="4.4" fill="#f1f1f1" stroke="#222" stroke-width="1.05"/>
<circle cx="501.61" cy="365.7" r="4.4" fill="#f1f1f1" stroke="#222" stroke-width="1.05"/>
<circle cx="495.04" cy="379.5" r="4.4" fill="#f1f1f1" stroke="#222" stroke-width="1.05"/>
<circle cx="489.79" cy="346.65" r="4.4" fill="#f1f1f1" stroke="#222" stroke-width="1.05"/>
<circle cx="498.33" cy="338.76" r="4.4" fill="#f1f1f1" stroke="#222" stroke-width="1.05"/>
<circle cx="504.9" cy="353.22" r="4.4" fill="#f1f1f1" stroke="#222" stroke-width="1.05"/>
<circle cx="513.44" cy="366.36" r="4.4" fill="#f1f1f1" stroke="#222" stroke-width="1.05"/>
<circle cx="508.84" cy="332.85" r="4.4" fill="#f1f1f1" stroke="#222" stroke-width="1.05"/>
<circle cx="544.82" cy="309.31" r="4.4" fill="#f1f1f1" stroke="#222" stroke-width="1.05"/>
<circle cx="547.45" cy="313.91" r="4.4" fill="#f1f1f1" stroke="#222" stroke-width="1.05"/>
<circle cx="550.73" cy="324.42" r="4.4" fill="#f1f1f1" stroke="#222" stroke-width="1.05"/>
<circle cx="576.36" cy="309.97" r="4.4" fill="#f1f1f1" stroke="#222" stroke-width="1.05"/>
<circle cx="586.87" cy="308" r="4.4" fill="#f1f1f1" stroke="#222" stroke-width="1.05"/>
<circle cx="588.84" cy="319.82" r="4.4" fill="#f1f1f1" stroke="#222" stroke-width="1.05"/>
<circle cx="597.38" cy="314.56" r="4.4" fill="#f1f1f1" stroke="#222" stroke-width="1.05"/>
<circle cx="586.87" cy="330.33" r="4.4" fill="#f1f1f1" stroke="#222" stroke-width="1.05"/>
<circle cx="586.87" cy="336.9" r="4.4" fill="#f1f1f1" stroke="#222" stroke-width="1.05"/>
<circle cx="598.04" cy="333.62" r="4.4" fill="#f1f1f1" stroke="#222" stroke-width="1.05"/>
<circle cx="577.01" cy="338.87" r="4.4" fill="#f1f1f1" stroke="#222" stroke-width="1.05"/>
<circle cx="576.36" cy="347.41" r="4.4" fill="#f1f1f1" stroke="#222" stroke-width="1.05"/>
<circle cx="581.61" cy="355.96" r="4.4" fill="#f1f1f1" stroke="#222" stroke-width="1.05"/>
<circle cx="565.19" cy="344.79" r="4.4" fill="#f1f1f1" stroke="#222" stroke-width="1.05"/>
<circle cx="563.87" cy="336.25" r="4.4" fill="#f1f1f1" stroke="#222" stroke-width="1.05"/>
<circle cx="565.85" cy="357.27" r="4.4" fill="#f1f1f1" stroke="#222" stroke-width="1.05"/>
<circle cx="555.33" cy="355.96" r="4.4" fill="#f1f1f1" stroke="#222" stroke-width="1.05"/>
<circle cx="536.94" cy="359.24" r="4.4" fill="#f1f1f1" stroke="#222" stroke-width="1.05"/>
<circle cx="529.71" cy="359.9" r="4.4" fill="#f1f1f1" stroke="#222" stroke-width="1.05"/>
<circle cx="524.45" cy="361.21" r="4.4" fill="#f1f1f1" stroke="#222" stroke-width="1.05"/>
<circle cx="524.45" cy="351.36" r="4.4" fill="#f1f1f1" stroke="#222" stroke-width="1.05"/>
<circle cx="599.35" cy="291.57" r="4.4" fill="#f1f1f1" stroke="#222" stroke-width="1.05"/>
<circle cx="599.35" cy="358.58" r="4.4" fill="#f1f1f1" stroke="#222" stroke-width="1.05"/>
<circle cx="599.35" cy="345.44" r="4.4" fill="#f1f1f1" stroke="#222" stroke-width="1.05"/>
<circle cx="565.85" cy="319.16" r="4.4" fill="#f1f1f1" stroke="#222" stroke-width="1.05"/>
<circle cx="602.48" cy="291.83" r="4.4" fill="#f1f1f1" stroke="#222" stroke-width="1.05"/>
<circle cx="607.74" cy="295.11" r="4.4" fill="#f1f1f1" stroke="#222" stroke-width="1.05"/>
<circle cx="621.54" cy="294.45" r="4.4" fill="#f1f1f1" stroke="#222" stroke-width="1.05"/>
<circle cx="614.97" cy="298.4" r="4.4" fill="#f1f1f1" stroke="#222" stroke-width="1.05"/>
<circle cx="626.13" cy="299.71" r="4.4" fill="#f1f1f1" stroke="#222" stroke-width="1.05"/>
<circle cx="602.48" cy="302.34" r="4.4" fill="#f1f1f1" stroke="#222" stroke-width="1.05"/>
<circle cx="608.4" cy="308.25" r="4.4" fill="#f1f1f1" stroke="#222" stroke-width="1.05"/>
<circle cx="618.25" cy="306.28" r="4.4" fill="#f1f1f1" stroke="#222" stroke-width="1.05"/>
<circle cx="629.42" cy="306.28" r="4.4" fill="#f1f1f1" stroke="#222" stroke-width="1.05"/>
<circle cx="634.68" cy="305.62" r="4.4" fill="#f1f1f1" stroke="#222" stroke-width="1.05"/>
<circle cx="618.25" cy="321.39" r="4.4" fill="#f1f1f1" stroke="#222" stroke-width="1.05"/>
<circle cx="623.51" cy="322.7" r="4.4" fill="#f1f1f1" stroke="#222" stroke-width="1.05"/>
<circle cx="601.17" cy="328.62" r="4.4" fill="#f1f1f1" stroke="#222" stroke-width="1.05"/>
<circle cx="610.37" cy="339.79" r="4.4" fill="#f1f1f1" stroke="#222" stroke-width="1.05"/>
<circle cx="602.88" cy="360.42" r="4.4" fill="#f1f1f1" stroke="#222" stroke-width="1.05"/>
<circle cx="655.44" cy="331.25" r="4.4" fill="#f1f1f1" stroke="#222" stroke-width="1.05"/>
<circle cx="521.5" cy="351.4" r="4.4" fill="#f1f1f1" stroke="#222" stroke-width="1.05"/>
<circle cx="519.2" cy="346.7" r="4.4" fill="#f1f1f1" stroke="#222" stroke-width="1.05"/>
<circle cx="513.44" cy="312.48" r="4.5" fill="#a0a0a0" stroke="#929292" stroke-width="0.6"/>
<circle cx="508.58" cy="319.71" r="4.5" fill="#a0a0a0" stroke="#929292" stroke-width="0.6"/>
<circle cx="508.58" cy="328.25" r="4.5" fill="#a0a0a0" stroke="#929292" stroke-width="0.6"/>
<circle cx="508.58" cy="338.11" r="4.5" fill="#a0a0a0" stroke="#929292" stroke-width="0.6"/>
<circle cx="517.38" cy="331.54" r="4.5" fill="#a0a0a0" stroke="#929292" stroke-width="0.6"/>
<circle cx="487.55" cy="338.37" r="4.5" fill="#a0a0a0" stroke="#929292" stroke-width="0.6"/>
<circle cx="497.67" cy="335.48" r="4.5" fill="#a0a0a0" stroke="#929292" stroke-width="0.6"/>
<circle cx="445.51" cy="356.76" r="4.5" fill="#a0a0a0" stroke="#929292" stroke-width="0.6"/>
<circle cx="466.13" cy="353.87" r="4.5" fill="#a0a0a0" stroke="#929292" stroke-width="0.6"/>
<circle cx="481.9" cy="350.59" r="4.5" fill="#a0a0a0" stroke="#929292" stroke-width="0.6"/>
<circle cx="476.65" cy="356.5" r="4.5" fill="#a0a0a0" stroke="#929292" stroke-width="0.6"/>
<circle cx="461.54" cy="363.07" r="4.5" fill="#a0a0a0" stroke="#929292" stroke-width="0.6"/>
<circle cx="472.05" cy="362.41" r="4.5" fill="#a0a0a0" stroke="#929292" stroke-width="0.6"/>
<circle cx="482.56" cy="365.7" r="4.5" fill="#a0a0a0" stroke="#929292" stroke-width="0.6"/>
<circle cx="456.28" cy="371.61" r="4.5" fill="#a0a0a0" stroke="#929292" stroke-width="0.6"/>
<circle cx="445.11" cy="371.61" r="4.5" fill="#a0a0a0" stroke="#929292" stroke-width="0.6"/>
<circle cx="449.71" cy="365.7" r="4.5" fill="#a0a0a0" stroke="#929292" stroke-width="0.6"/>
<circle cx="471.79" cy="378.18" r="4.5" fill="#a0a0a0" stroke="#929292" stroke-width="0.6"/>
<circle cx="513.44" cy="351.25" r="4.5" fill="#a0a0a0" stroke="#929292" stroke-width="0.6"/>
<circle cx="513.44" cy="360.44" r="4.5" fill="#a0a0a0" stroke="#929292" stroke-width="0.6"/>
<circle cx="512.78" cy="343.36" r="4.5" fill="#a0a0a0" stroke="#929292" stroke-width="0.6"/>
<circle cx="529.45" cy="298.14" r="4.5" fill="#a0a0a0" stroke="#929292" stroke-width="0.6"/>
<circle cx="555.33" cy="309.97" r="4.5" fill="#a0a0a0" stroke="#929292" stroke-width="0.6"/>
<circle cx="565.85" cy="311.28" r="4.5" fill="#a0a0a0" stroke="#929292" stroke-width="0.6"/>
<circle cx="581.61" cy="302.08" r="4.5" fill="#a0a0a0" stroke="#929292" stroke-width="0.6"/>
<circle cx="592.12" cy="308" r="4.5" fill="#a0a0a0" stroke="#929292" stroke-width="0.6"/>
<circle cx="577.67" cy="316.54" r="4.5" fill="#a0a0a0" stroke="#929292" stroke-width="0.6"/>
<circle cx="573.07" cy="317.19" r="4.5" fill="#a0a0a0" stroke="#929292" stroke-width="0.6"/>
<circle cx="559.27" cy="317.85" r="4.5" fill="#a0a0a0" stroke="#929292" stroke-width="0.6"/>
<circle cx="557.96" cy="323.11" r="4.5" fill="#a0a0a0" stroke="#929292" stroke-width="0.6"/>
<circle cx="523.8" cy="328.36" r="4.5" fill="#a0a0a0" stroke="#929292" stroke-width="0.6"/>
<circle cx="531.02" cy="327.05" r="4.5" fill="#a0a0a0" stroke="#929292" stroke-width="0.6"/>
<circle cx="536.28" cy="325.73" r="4.5" fill="#a0a0a0" stroke="#929292" stroke-width="0.6"/>
<circle cx="541.54" cy="327.05" r="4.5" fill="#a0a0a0" stroke="#929292" stroke-width="0.6"/>
<circle cx="544.82" cy="330.99" r="4.5" fill="#a0a0a0" stroke="#929292" stroke-width="0.6"/>
<circle cx="534.97" cy="331.65" r="4.5" fill="#a0a0a0" stroke="#929292" stroke-width="0.6"/>
<circle cx="518.54" cy="334.27" r="4.5" fill="#a0a0a0" stroke="#929292" stroke-width="0.6"/>
<circle cx="549.42" cy="337.56" r="4.5" fill="#a0a0a0" stroke="#929292" stroke-width="0.6"/>
<circle cx="571.1" cy="336.25" r="4.5" fill="#a0a0a0" stroke="#929292" stroke-width="0.6"/>
<circle cx="592.12" cy="324.42" r="4.5" fill="#a0a0a0" stroke="#929292" stroke-width="0.6"/>
<circle cx="515.26" cy="344.13" r="4.5" fill="#a0a0a0" stroke="#929292" stroke-width="0.6"/>
<circle cx="537.59" cy="344.13" r="4.5" fill="#a0a0a0" stroke="#929292" stroke-width="0.6"/>
<circle cx="530.37" cy="348.73" r="4.5" fill="#a0a0a0" stroke="#929292" stroke-width="0.6"/>
<circle cx="544.82" cy="348.73" r="4.5" fill="#a0a0a0" stroke="#929292" stroke-width="0.6"/>
<circle cx="536.94" cy="353.33" r="4.5" fill="#a0a0a0" stroke="#929292" stroke-width="0.6"/>
<circle cx="557.96" cy="346.1" r="4.5" fill="#a0a0a0" stroke="#929292" stroke-width="0.6"/>
<circle cx="555.99" cy="352.01" r="4.5" fill="#a0a0a0" stroke="#929292" stroke-width="0.6"/>
<circle cx="562.56" cy="352.01" r="4.5" fill="#a0a0a0" stroke="#929292" stroke-width="0.6"/>
<circle cx="613.39" cy="303" r="4.5" fill="#a0a0a0" stroke="#929292" stroke-width="0.6"/>
<circle cx="602.88" cy="345.7" r="4.5" fill="#a0a0a0" stroke="#929292" stroke-width="0.6"/>
<circle cx="625.48" cy="367.38" r="4.5" fill="#a0a0a0" stroke="#929292" stroke-width="0.6"/>
<circle cx="513.4" cy="356.1" r="4.5" fill="#a0a0a0" stroke="#929292" stroke-width="0.6"/>
<circle cx="557.7" cy="342" r="4.5" fill="#a0a0a0" stroke="#929292" stroke-width="0.6"/>
<line x1="443" y1="366.4" x2="620" y2="313.2" stroke="#5a5a5a" stroke-width="2.6" stroke-dasharray="7.2 3.3"/>
<line x1="439.4" y1="369.3" x2="655.6" y2="303.4" stroke="#111" stroke-width="2.7" stroke-dasharray="7.4 3.1"/>
<line x1="439.4" y1="368" x2="655.6" y2="303.1" stroke="#111" stroke-width="1.4"/>
<line x1="408.9" y1="423.2" x2="671.1" y2="423.2" stroke="#2e2e2e" stroke-width="1.8"/>
<line x1="408.9" y1="423.2" x2="408.9" y2="266.4" stroke="#1a1a1a" stroke-width="1.8"/>
<line x1="404.9" y1="423.2" x2="408.9" y2="423.2" stroke="#1a1a1a" stroke-width="1.5"/>
<text x="397.9" y="427.5" text-anchor="end" class="t">0</text>
<line x1="404.9" y1="397.07" x2="408.9" y2="397.07" stroke="#1a1a1a" stroke-width="1.5"/>
<text x="397.9" y="401.37" text-anchor="end" class="t">5</text>
<line x1="404.9" y1="370.93" x2="408.9" y2="370.93" stroke="#1a1a1a" stroke-width="1.5"/>
<text x="397.9" y="375.23" text-anchor="end" class="t">10</text>
<line x1="404.9" y1="344.8" x2="408.9" y2="344.8" stroke="#1a1a1a" stroke-width="1.5"/>
<text x="397.9" y="349.1" text-anchor="end" class="t">15</text>
<line x1="404.9" y1="318.67" x2="408.9" y2="318.67" stroke="#1a1a1a" stroke-width="1.5"/>
<text x="397.9" y="322.97" text-anchor="end" class="t">20</text>
<line x1="404.9" y1="292.53" x2="408.9" y2="292.53" stroke="#1a1a1a" stroke-width="1.5"/>
<text x="397.9" y="296.83" text-anchor="end" class="t">25</text>
<line x1="404.9" y1="266.4" x2="408.9" y2="266.4" stroke="#1a1a1a" stroke-width="1.5"/>
<text x="397.9" y="270.7" text-anchor="end" class="t">30</text>
<line x1="408.9" y1="423.2" x2="408.9" y2="427.2" stroke="#2e2e2e" stroke-width="1.5"/>
<text x="408.9" y="441.8" text-anchor="middle" class="t">90</text>
<line x1="461.34" y1="423.2" x2="461.34" y2="427.2" stroke="#2e2e2e" stroke-width="1.5"/>
<text x="461.34" y="441.8" text-anchor="middle" class="t">100</text>
<line x1="513.78" y1="423.2" x2="513.78" y2="427.2" stroke="#2e2e2e" stroke-width="1.5"/>
<text x="513.78" y="441.8" text-anchor="middle" class="t">110</text>
<line x1="566.22" y1="423.2" x2="566.22" y2="427.2" stroke="#2e2e2e" stroke-width="1.5"/>
<text x="566.22" y="441.8" text-anchor="middle" class="t">120</text>
<line x1="618.66" y1="423.2" x2="618.66" y2="427.2" stroke="#2e2e2e" stroke-width="1.5"/>
<text x="618.66" y="441.8" text-anchor="middle" class="t">130</text>
<line x1="671.1" y1="423.2" x2="671.1" y2="427.2" stroke="#2e2e2e" stroke-width="1.5"/>
<text x="671.1" y="441.8" text-anchor="middle" class="t">140</text>
<text x="540" y="457.2" text-anchor="middle" class="t">HC [cm]</text>
<text transform="translate(381,344.8) rotate(-90)" text-anchor="middle" class="t">V<tspan font-size="8.5" dy="3">TAT</tspan><tspan dy="-3"> [L]</tspan></text>
<rect x="574.2" y="371.9" width="43.4" height="13.5" fill="#fff" fill-opacity="0.85"/>
<text x="575.7" y="381.4" class="r" fill="#141414" font-style="italic">r</text>
<text x="579.2" y="384" class="r" fill="#141414" style="font-size:5.8px">F</text>
<text x="616.1" y="381.4" class="r" fill="#141414" text-anchor="end">= 0.715</text>
<rect x="640.1" y="290.4" width="44.8" height="13.5" fill="#fff" fill-opacity="0.85"/>
<text x="641.6" y="299.9" class="r" fill="#3c3c3c" font-style="italic">r</text>
<text x="645.1" y="302.5" class="r" fill="#3c3c3c" style="font-size:5.8px">O</text>
<text x="683.4" y="299.9" class="r" fill="#3c3c3c" text-anchor="end">= 0.690</text>
<rect x="466.7" y="297.9" width="46.4" height="13.5" fill="#fff" fill-opacity="0.85"/>
<text x="468.2" y="307.4" class="r" fill="#888888" font-style="italic">r</text>
<text x="471.7" y="310" class="r" fill="#888888" style="font-size:5.8px">M</text>
<text x="511.6" y="307.4" class="r" fill="#888888" text-anchor="end">= 0.662</text>
<line x1="38.4" y1="653.62" x2="300.4" y2="653.62" stroke="#d9d9d9" stroke-width="1.2"/>
<line x1="38.4" y1="622.24" x2="300.4" y2="622.24" stroke="#d9d9d9" stroke-width="1.2"/>
<line x1="38.4" y1="590.86" x2="300.4" y2="590.86" stroke="#d9d9d9" stroke-width="1.2"/>
<line x1="38.4" y1="559.48" x2="300.4" y2="559.48" stroke="#d9d9d9" stroke-width="1.2"/>
<line x1="38.4" y1="528.1" x2="300.4" y2="528.1" stroke="#d9d9d9" stroke-width="1.2"/>
<line x1="90.8" y1="685" x2="90.8" y2="528.1" stroke="#d9d9d9" stroke-width="1.2"/>
<line x1="143.2" y1="685" x2="143.2" y2="528.1" stroke="#d9d9d9" stroke-width="1.2"/>
<line x1="195.6" y1="685" x2="195.6" y2="528.1" stroke="#d9d9d9" stroke-width="1.2"/>
<line x1="248" y1="685" x2="248" y2="528.1" stroke="#d9d9d9" stroke-width="1.2"/>
<line x1="300.4" y1="685" x2="300.4" y2="528.1" stroke="#d9d9d9" stroke-width="1.2"/>
<circle cx="73.48" cy="596.02" r="4.4" fill="#f1f1f1" stroke="#222" stroke-width="1.05"/>
<circle cx="108.3" cy="592.08" r="4.4" fill="#f1f1f1" stroke="#222" stroke-width="1.05"/>
<circle cx="124.72" cy="590.11" r="4.4" fill="#f1f1f1" stroke="#222" stroke-width="1.05"/>
<circle cx="122.1" cy="599.31" r="4.4" fill="#f1f1f1" stroke="#222" stroke-width="1.05"/>
<circle cx="114.21" cy="601.94" r="4.4" fill="#f1f1f1" stroke="#222" stroke-width="1.05"/>
<circle cx="103.7" cy="605.88" r="4.4" fill="#f1f1f1" stroke="#222" stroke-width="1.05"/>
<circle cx="85.57" cy="609.82" r="4.4" fill="#f1f1f1" stroke="#222" stroke-width="1.05"/>
<circle cx="82.68" cy="617.05" r="4.4" fill="#f1f1f1" stroke="#222" stroke-width="1.05"/>
<circle cx="94.5" cy="612.45" r="4.4" fill="#f1f1f1" stroke="#222" stroke-width="1.05"/>
<circle cx="95.82" cy="618.36" r="4.4" fill="#f1f1f1" stroke="#222" stroke-width="1.05"/>
<circle cx="103.7" cy="619.02" r="4.4" fill="#f1f1f1" stroke="#222" stroke-width="1.05"/>
<circle cx="115.53" cy="617.05" r="4.4" fill="#f1f1f1" stroke="#222" stroke-width="1.05"/>
<circle cx="124.07" cy="625.59" r="4.4" fill="#f1f1f1" stroke="#222" stroke-width="1.05"/>
<circle cx="122.1" cy="622.3" r="4.4" fill="#f1f1f1" stroke="#222" stroke-width="1.05"/>
<circle cx="64.28" cy="626.9" r="4.4" fill="#f1f1f1" stroke="#222" stroke-width="1.05"/>
<circle cx="74.79" cy="624.93" r="4.4" fill="#f1f1f1" stroke="#222" stroke-width="1.05"/>
<circle cx="80.05" cy="631.5" r="4.4" fill="#f1f1f1" stroke="#222" stroke-width="1.05"/>
<circle cx="43.26" cy="634.79" r="4.4" fill="#f1f1f1" stroke="#222" stroke-width="1.05"/>
<circle cx="64.28" cy="638.07" r="4.4" fill="#f1f1f1" stroke="#222" stroke-width="1.05"/>
<circle cx="53.77" cy="642.67" r="4.4" fill="#f1f1f1" stroke="#222" stroke-width="1.05"/>
<circle cx="95.82" cy="635.44" r="4.4" fill="#f1f1f1" stroke="#222" stroke-width="1.05"/>
<circle cx="159.16" cy="566.82" r="4.4" fill="#f1f1f1" stroke="#222" stroke-width="1.05"/>
<circle cx="166.65" cy="562.48" r="4.4" fill="#f1f1f1" stroke="#222" stroke-width="1.05"/>
<circle cx="169.93" cy="566.42" r="4.4" fill="#f1f1f1" stroke="#222" stroke-width="1.05"/>
<circle cx="177.16" cy="567.08" r="4.4" fill="#f1f1f1" stroke="#222" stroke-width="1.05"/>
<circle cx="195.56" cy="561.56" r="4.4" fill="#f1f1f1" stroke="#222" stroke-width="1.05"/>
<circle cx="187.67" cy="569.71" r="4.4" fill="#f1f1f1" stroke="#222" stroke-width="1.05"/>
<circle cx="190.3" cy="575.62" r="4.4" fill="#f1f1f1" stroke="#222" stroke-width="1.05"/>
<circle cx="184.39" cy="579.57" r="4.4" fill="#f1f1f1" stroke="#222" stroke-width="1.05"/>
<circle cx="190.3" cy="584.82" r="4.4" fill="#f1f1f1" stroke="#222" stroke-width="1.05"/>
<circle cx="205.41" cy="572.34" r="4.4" fill="#f1f1f1" stroke="#222" stroke-width="1.05"/>
<circle cx="205.41" cy="578.25" r="4.4" fill="#f1f1f1" stroke="#222" stroke-width="1.05"/>
<circle cx="204.1" cy="585.48" r="4.4" fill="#f1f1f1" stroke="#222" stroke-width="1.05"/>
<circle cx="200.81" cy="592.05" r="4.4" fill="#f1f1f1" stroke="#222" stroke-width="1.05"/>
<circle cx="137.74" cy="586.79" r="4.4" fill="#f1f1f1" stroke="#222" stroke-width="1.05"/>
<circle cx="127.23" cy="594.68" r="4.4" fill="#f1f1f1" stroke="#222" stroke-width="1.05"/>
<circle cx="135.77" cy="601.9" r="4.4" fill="#f1f1f1" stroke="#222" stroke-width="1.05"/>
<circle cx="129.85" cy="611.76" r="4.4" fill="#f1f1f1" stroke="#222" stroke-width="1.05"/>
<circle cx="137.08" cy="606.5" r="4.4" fill="#f1f1f1" stroke="#222" stroke-width="1.05"/>
<circle cx="145.62" cy="606.5" r="4.4" fill="#f1f1f1" stroke="#222" stroke-width="1.05"/>
<circle cx="154.82" cy="582.85" r="4.4" fill="#f1f1f1" stroke="#222" stroke-width="1.05"/>
<circle cx="159.42" cy="588.76" r="4.4" fill="#f1f1f1" stroke="#222" stroke-width="1.05"/>
<circle cx="150.88" cy="592.05" r="4.4" fill="#f1f1f1" stroke="#222" stroke-width="1.05"/>
<circle cx="154.16" cy="599.93" r="4.4" fill="#f1f1f1" stroke="#222" stroke-width="1.05"/>
<circle cx="159.42" cy="595.99" r="4.4" fill="#f1f1f1" stroke="#222" stroke-width="1.05"/>
<circle cx="169.28" cy="589.42" r="4.4" fill="#f1f1f1" stroke="#222" stroke-width="1.05"/>
<circle cx="173.87" cy="601.25" r="4.4" fill="#f1f1f1" stroke="#222" stroke-width="1.05"/>
<circle cx="165.33" cy="603.87" r="4.4" fill="#f1f1f1" stroke="#222" stroke-width="1.05"/>
<circle cx="185.04" cy="598.62" r="4.4" fill="#f1f1f1" stroke="#222" stroke-width="1.05"/>
<circle cx="194.9" cy="611.1" r="4.4" fill="#f1f1f1" stroke="#222" stroke-width="1.05"/>
<circle cx="143.65" cy="617.67" r="4.4" fill="#f1f1f1" stroke="#222" stroke-width="1.05"/>
<circle cx="150.22" cy="617.01" r="4.4" fill="#f1f1f1" stroke="#222" stroke-width="1.05"/>
<circle cx="133.8" cy="617.01" r="4.4" fill="#f1f1f1" stroke="#222" stroke-width="1.05"/>
<circle cx="131.83" cy="629.5" r="4.4" fill="#f1f1f1" stroke="#222" stroke-width="1.05"/>
<circle cx="143" cy="624.24" r="4.4" fill="#f1f1f1" stroke="#222" stroke-width="1.05"/>
<circle cx="152.19" cy="624.9" r="4.4" fill="#f1f1f1" stroke="#222" stroke-width="1.05"/>
<circle cx="237.67" cy="547.3" r="4.4" fill="#f1f1f1" stroke="#222" stroke-width="1.05"/>
<circle cx="226.28" cy="556.79" r="4.4" fill="#f1f1f1" stroke="#222" stroke-width="1.05"/>
<circle cx="232.41" cy="559.71" r="4.4" fill="#f1f1f1" stroke="#222" stroke-width="1.05"/>
<circle cx="227.01" cy="567.01" r="4.4" fill="#f1f1f1" stroke="#222" stroke-width="1.05"/>
<circle cx="235.04" cy="571.39" r="4.4" fill="#f1f1f1" stroke="#222" stroke-width="1.05"/>
<circle cx="243.07" cy="580.15" r="4.4" fill="#f1f1f1" stroke="#222" stroke-width="1.05"/>
<circle cx="237.96" cy="581.61" r="4.4" fill="#f1f1f1" stroke="#222" stroke-width="1.05"/>
<circle cx="263.51" cy="579.42" r="4.4" fill="#f1f1f1" stroke="#222" stroke-width="1.05"/>
<circle cx="211.68" cy="575.04" r="4.4" fill="#f1f1f1" stroke="#222" stroke-width="1.05"/>
<circle cx="211.68" cy="591.1" r="4.4" fill="#f1f1f1" stroke="#222" stroke-width="1.05"/>
<circle cx="221.61" cy="599.13" r="4.4" fill="#f1f1f1" stroke="#222" stroke-width="1.05"/>
<circle cx="274.46" cy="623.51" r="4.4" fill="#f1f1f1" stroke="#222" stroke-width="1.05"/>
<circle cx="147.45" cy="617.19" r="4.4" fill="#f1f1f1" stroke="#222" stroke-width="1.05"/>
<circle cx="132.3" cy="600.4" r="4.4" fill="#f1f1f1" stroke="#222" stroke-width="1.05"/>
<circle cx="138" cy="600.4" r="4.4" fill="#f1f1f1" stroke="#222" stroke-width="1.05"/>
<circle cx="169.1" cy="603.9" r="4.4" fill="#f1f1f1" stroke="#222" stroke-width="1.05"/>
<circle cx="176.1" cy="606.5" r="4.4" fill="#f1f1f1" stroke="#222" stroke-width="1.05"/>
<circle cx="85.3" cy="646.61" r="4.5" fill="#a0a0a0" stroke="#929292" stroke-width="0.6"/>
<circle cx="90.56" cy="643.33" r="4.5" fill="#a0a0a0" stroke="#929292" stroke-width="0.6"/>
<circle cx="95.82" cy="649.24" r="4.5" fill="#a0a0a0" stroke="#929292" stroke-width="0.6"/>
<circle cx="101.07" cy="647.27" r="4.5" fill="#a0a0a0" stroke="#929292" stroke-width="0.6"/>
<circle cx="106.33" cy="642.01" r="4.5" fill="#a0a0a0" stroke="#929292" stroke-width="0.6"/>
<circle cx="106.33" cy="646.61" r="4.5" fill="#a0a0a0" stroke="#929292" stroke-width="0.6"/>
<circle cx="112.24" cy="650.55" r="4.5" fill="#a0a0a0" stroke="#929292" stroke-width="0.6"/>
<circle cx="122.1" cy="636.76" r="4.5" fill="#a0a0a0" stroke="#929292" stroke-width="0.6"/>
<circle cx="122.1" cy="645.96" r="4.5" fill="#a0a0a0" stroke="#929292" stroke-width="0.6"/>
<circle cx="116.84" cy="644.64" r="4.5" fill="#a0a0a0" stroke="#929292" stroke-width="0.6"/>
<circle cx="177.16" cy="588.76" r="4.5" fill="#a0a0a0" stroke="#929292" stroke-width="0.6"/>
<circle cx="168.62" cy="606.5" r="4.5" fill="#a0a0a0" stroke="#929292" stroke-width="0.6"/>
<circle cx="164.68" cy="613.07" r="4.5" fill="#a0a0a0" stroke="#929292" stroke-width="0.6"/>
<circle cx="168.62" cy="614.39" r="4.5" fill="#a0a0a0" stroke="#929292" stroke-width="0.6"/>
<circle cx="179.13" cy="611.76" r="4.5" fill="#a0a0a0" stroke="#929292" stroke-width="0.6"/>
<circle cx="185.7" cy="611.76" r="4.5" fill="#a0a0a0" stroke="#929292" stroke-width="0.6"/>
<circle cx="159.42" cy="619.64" r="4.5" fill="#a0a0a0" stroke="#929292" stroke-width="0.6"/>
<circle cx="171.25" cy="620.96" r="4.5" fill="#a0a0a0" stroke="#929292" stroke-width="0.6"/>
<circle cx="179.13" cy="626.21" r="4.5" fill="#a0a0a0" stroke="#929292" stroke-width="0.6"/>
<circle cx="188.33" cy="623.58" r="4.5" fill="#a0a0a0" stroke="#929292" stroke-width="0.6"/>
<circle cx="198.84" cy="623.58" r="4.5" fill="#a0a0a0" stroke="#929292" stroke-width="0.6"/>
<circle cx="196.21" cy="598.62" r="4.5" fill="#a0a0a0" stroke="#929292" stroke-width="0.6"/>
<circle cx="204.1" cy="597.3" r="4.5" fill="#a0a0a0" stroke="#929292" stroke-width="0.6"/>
<circle cx="201.47" cy="607.82" r="4.5" fill="#a0a0a0" stroke="#929292" stroke-width="0.6"/>
<circle cx="206.72" cy="602.56" r="4.5" fill="#a0a0a0" stroke="#929292" stroke-width="0.6"/>
<circle cx="208.04" cy="618.33" r="4.5" fill="#a0a0a0" stroke="#929292" stroke-width="0.6"/>
<circle cx="204.1" cy="623.58" r="4.5" fill="#a0a0a0" stroke="#929292" stroke-width="0.6"/>
<circle cx="138.4" cy="630.15" r="4.5" fill="#a0a0a0" stroke="#929292" stroke-width="0.6"/>
<circle cx="144.97" cy="631.47" r="4.5" fill="#a0a0a0" stroke="#929292" stroke-width="0.6"/>
<circle cx="158.11" cy="628.84" r="4.5" fill="#a0a0a0" stroke="#929292" stroke-width="0.6"/>
<circle cx="169.28" cy="634.1" r="4.5" fill="#a0a0a0" stroke="#929292" stroke-width="0.6"/>
<circle cx="175.19" cy="631.47" r="4.5" fill="#a0a0a0" stroke="#929292" stroke-width="0.6"/>
<circle cx="184.39" cy="633.44" r="4.5" fill="#a0a0a0" stroke="#929292" stroke-width="0.6"/>
<circle cx="190.96" cy="632.78" r="4.5" fill="#a0a0a0" stroke="#929292" stroke-width="0.6"/>
<circle cx="198.84" cy="628.84" r="4.5" fill="#a0a0a0" stroke="#929292" stroke-width="0.6"/>
<circle cx="151.54" cy="637.38" r="4.5" fill="#a0a0a0" stroke="#929292" stroke-width="0.6"/>
<circle cx="159.42" cy="637.38" r="4.5" fill="#a0a0a0" stroke="#929292" stroke-width="0.6"/>
<circle cx="237.67" cy="588.18" r="4.5" fill="#a0a0a0" stroke="#929292" stroke-width="0.6"/>
<circle cx="253.29" cy="591.83" r="4.5" fill="#a0a0a0" stroke="#929292" stroke-width="0.6"/>
<circle cx="253.29" cy="600.59" r="4.5" fill="#a0a0a0" stroke="#929292" stroke-width="0.6"/>
<circle cx="243.07" cy="603.51" r="4.5" fill="#a0a0a0" stroke="#929292" stroke-width="0.6"/>
<circle cx="268.62" cy="582.34" r="4.5" fill="#a0a0a0" stroke="#929292" stroke-width="0.6"/>
<circle cx="268.62" cy="591.83" r="4.5" fill="#a0a0a0" stroke="#929292" stroke-width="0.6"/>
<circle cx="279.57" cy="603.51" r="4.5" fill="#a0a0a0" stroke="#929292" stroke-width="0.6"/>
<circle cx="284.68" cy="607.16" r="4.5" fill="#a0a0a0" stroke="#929292" stroke-width="0.6"/>
<circle cx="248.18" cy="613" r="4.5" fill="#a0a0a0" stroke="#929292" stroke-width="0.6"/>
<circle cx="237.96" cy="618.11" r="4.5" fill="#a0a0a0" stroke="#929292" stroke-width="0.6"/>
<circle cx="221.9" cy="623.22" r="4.5" fill="#a0a0a0" stroke="#929292" stroke-width="0.6"/>
<circle cx="230.66" cy="631.98" r="4.5" fill="#a0a0a0" stroke="#929292" stroke-width="0.6"/>
<circle cx="245.26" cy="629.79" r="4.5" fill="#a0a0a0" stroke="#929292" stroke-width="0.6"/>
<circle cx="211.68" cy="631.98" r="4.5" fill="#a0a0a0" stroke="#929292" stroke-width="0.6"/>
<circle cx="221.9" cy="608.62" r="4.5" fill="#a0a0a0" stroke="#929292" stroke-width="0.6"/>
<circle cx="218.98" cy="615.92" r="4.5" fill="#a0a0a0" stroke="#929292" stroke-width="0.6"/>
<circle cx="211.68" cy="607.16" r="4.5" fill="#a0a0a0" stroke="#929292" stroke-width="0.6"/>
<circle cx="205.84" cy="613" r="4.5" fill="#a0a0a0" stroke="#929292" stroke-width="0.6"/>
<circle cx="205.84" cy="620.3" r="4.5" fill="#a0a0a0" stroke="#929292" stroke-width="0.6"/>
<circle cx="137.96" cy="641.28" r="4.5" fill="#a0a0a0" stroke="#929292" stroke-width="0.6"/>
<circle cx="143.07" cy="647.12" r="4.5" fill="#a0a0a0" stroke="#929292" stroke-width="0.6"/>
<circle cx="148.18" cy="637.63" r="4.5" fill="#a0a0a0" stroke="#929292" stroke-width="0.6"/>
<circle cx="153.29" cy="649.31" r="4.5" fill="#a0a0a0" stroke="#929292" stroke-width="0.6"/>
<circle cx="164.24" cy="617.19" r="4.5" fill="#a0a0a0" stroke="#929292" stroke-width="0.6"/>
<circle cx="190.52" cy="644.93" r="4.5" fill="#a0a0a0" stroke="#929292" stroke-width="0.6"/>
<circle cx="182.49" cy="650.77" r="4.5" fill="#a0a0a0" stroke="#929292" stroke-width="0.6"/>
<circle cx="181.03" cy="628.14" r="4.5" fill="#a0a0a0" stroke="#929292" stroke-width="0.6"/>
<line x1="43.3" y1="634.8" x2="285.4" y2="586" stroke="#111" stroke-width="1.4"/>
<line x1="43.3" y1="633.5" x2="273" y2="566.3" stroke="#111" stroke-width="2.7" stroke-dasharray="7.4 3.1"/>
<line x1="85.3" y1="651.2" x2="284.7" y2="594.8" stroke="#5a5a5a" stroke-width="2.6" stroke-dasharray="7.2 3.3"/>
<line x1="38.4" y1="685" x2="300.4" y2="685" stroke="#2e2e2e" stroke-width="1.8"/>
<line x1="38.4" y1="685" x2="38.4" y2="528.1" stroke="#1a1a1a" stroke-width="1.8"/>
<line x1="34.4" y1="685" x2="38.4" y2="685" stroke="#1a1a1a" stroke-width="1.5"/>
<text x="27.4" y="689.3" text-anchor="end" class="t">0</text>
<line x1="34.4" y1="653.62" x2="38.4" y2="653.62" stroke="#1a1a1a" stroke-width="1.5"/>
<text x="27.4" y="657.92" text-anchor="end" class="t">5</text>
<line x1="34.4" y1="622.24" x2="38.4" y2="622.24" stroke="#1a1a1a" stroke-width="1.5"/>
<text x="27.4" y="626.54" text-anchor="end" class="t">10</text>
<line x1="34.4" y1="590.86" x2="38.4" y2="590.86" stroke="#1a1a1a" stroke-width="1.5"/>
<text x="27.4" y="595.16" text-anchor="end" class="t">15</text>
<line x1="34.4" y1="559.48" x2="38.4" y2="559.48" stroke="#1a1a1a" stroke-width="1.5"/>
<text x="27.4" y="563.78" text-anchor="end" class="t">20</text>
<line x1="34.4" y1="528.1" x2="38.4" y2="528.1" stroke="#1a1a1a" stroke-width="1.5"/>
<text x="27.4" y="532.4" text-anchor="end" class="t">25</text>
<line x1="38.4" y1="685" x2="38.4" y2="689" stroke="#2e2e2e" stroke-width="1.5"/>
<text x="38.4" y="703.6" text-anchor="middle" class="t">85</text>
<line x1="90.8" y1="685" x2="90.8" y2="689" stroke="#2e2e2e" stroke-width="1.5"/>
<text x="90.8" y="703.6" text-anchor="middle" class="t">95</text>
<line x1="143.2" y1="685" x2="143.2" y2="689" stroke="#2e2e2e" stroke-width="1.5"/>
<text x="143.2" y="703.6" text-anchor="middle" class="t">105</text>
<line x1="195.6" y1="685" x2="195.6" y2="689" stroke="#2e2e2e" stroke-width="1.5"/>
<text x="195.6" y="703.6" text-anchor="middle" class="t">115</text>
<line x1="248" y1="685" x2="248" y2="689" stroke="#2e2e2e" stroke-width="1.5"/>
<text x="248" y="703.6" text-anchor="middle" class="t">125</text>
<line x1="300.4" y1="685" x2="300.4" y2="689" stroke="#2e2e2e" stroke-width="1.5"/>
<text x="300.4" y="703.6" text-anchor="middle" class="t">135</text>
<text x="169.4" y="719" text-anchor="middle" class="t">WC [cm]</text>
<text transform="translate(8.6,606.55) rotate(-90)" text-anchor="middle" class="t">V<tspan font-size="8.5" dy="3">SAT</tspan><tspan dy="-3"> [L]</tspan></text>
<rect x="98.2" y="570.8" width="43.6" height="13.5" fill="#fff" fill-opacity="0.85"/>
<text x="99.7" y="580.3" class="r" fill="#141414" font-style="italic">r</text>
<text x="103.2" y="582.9" class="r" fill="#141414" style="font-size:5.8px">F</text>
<text x="140.3" y="580.3" class="r" fill="#141414" text-anchor="end">= 0.690</text>
<rect x="270.8" y="571.9" width="44.4" height="13.5" fill="#fff" fill-opacity="0.85"/>
<text x="272.3" y="581.4" class="r" fill="#3c3c3c" font-style="italic">r</text>
<text x="275.8" y="584" class="r" fill="#3c3c3c" style="font-size:5.8px">O</text>
<text x="313.7" y="581.4" class="r" fill="#3c3c3c" text-anchor="end">= 0.457</text>
<rect x="201.3" y="638.8" width="46.6" height="13.5" fill="#fff" fill-opacity="0.85"/>
<text x="202.8" y="648.3" class="r" fill="#888888" font-style="italic">r</text>
<text x="206.3" y="650.9" class="r" fill="#888888" style="font-size:5.8px">M</text>
<text x="246.4" y="648.3" class="r" fill="#888888" text-anchor="end">= 0.759</text>
<line x1="408.8" y1="658.72" x2="670.8" y2="658.72" stroke="#d9d9d9" stroke-width="1.2"/>
<line x1="408.8" y1="632.63" x2="670.8" y2="632.63" stroke="#d9d9d9" stroke-width="1.2"/>
<line x1="408.8" y1="606.55" x2="670.8" y2="606.55" stroke="#d9d9d9" stroke-width="1.2"/>
<line x1="408.8" y1="580.47" x2="670.8" y2="580.47" stroke="#d9d9d9" stroke-width="1.2"/>
<line x1="408.8" y1="554.38" x2="670.8" y2="554.38" stroke="#d9d9d9" stroke-width="1.2"/>
<line x1="408.8" y1="528.3" x2="670.8" y2="528.3" stroke="#d9d9d9" stroke-width="1.2"/>
<line x1="461.2" y1="684.8" x2="461.2" y2="528.3" stroke="#d9d9d9" stroke-width="1.2"/>
<line x1="513.6" y1="684.8" x2="513.6" y2="528.3" stroke="#d9d9d9" stroke-width="1.2"/>
<line x1="566" y1="684.8" x2="566" y2="528.3" stroke="#d9d9d9" stroke-width="1.2"/>
<line x1="618.4" y1="684.8" x2="618.4" y2="528.3" stroke="#d9d9d9" stroke-width="1.2"/>
<line x1="670.8" y1="684.8" x2="670.8" y2="528.3" stroke="#d9d9d9" stroke-width="1.2"/>
<circle cx="443.9" cy="591.83" r="4.4" fill="#f1f1f1" stroke="#222" stroke-width="1.05"/>
<circle cx="455.73" cy="609.57" r="4.4" fill="#f1f1f1" stroke="#222" stroke-width="1.05"/>
<circle cx="413.94" cy="630.59" r="4.4" fill="#f1f1f1" stroke="#222" stroke-width="1.05"/>
<circle cx="424.45" cy="632.56" r="4.4" fill="#f1f1f1" stroke="#222" stroke-width="1.05"/>
<circle cx="434.97" cy="629.93" r="4.4" fill="#f1f1f1" stroke="#222" stroke-width="1.05"/>
<circle cx="434.97" cy="627.3" r="4.4" fill="#f1f1f1" stroke="#222" stroke-width="1.05"/>
<circle cx="445.48" cy="621.39" r="4.4" fill="#f1f1f1" stroke="#222" stroke-width="1.05"/>
<circle cx="444.82" cy="627.96" r="4.4" fill="#f1f1f1" stroke="#222" stroke-width="1.05"/>
<circle cx="453.36" cy="623.36" r="4.4" fill="#f1f1f1" stroke="#222" stroke-width="1.05"/>
<circle cx="450.08" cy="633.22" r="4.4" fill="#f1f1f1" stroke="#222" stroke-width="1.05"/>
<circle cx="434.97" cy="641.76" r="4.4" fill="#f1f1f1" stroke="#222" stroke-width="1.05"/>
<circle cx="474.39" cy="610.22" r="4.4" fill="#f1f1f1" stroke="#222" stroke-width="1.05"/>
<circle cx="474.39" cy="616.13" r="4.4" fill="#f1f1f1" stroke="#222" stroke-width="1.05"/>
<circle cx="478.33" cy="596.42" r="4.4" fill="#f1f1f1" stroke="#222" stroke-width="1.05"/>
<circle cx="484.24" cy="606.94" r="4.4" fill="#f1f1f1" stroke="#222" stroke-width="1.05"/>
<circle cx="485.56" cy="599.71" r="4.4" fill="#f1f1f1" stroke="#222" stroke-width="1.05"/>
<circle cx="492.12" cy="594.45" r="4.4" fill="#f1f1f1" stroke="#222" stroke-width="1.05"/>
<circle cx="495.41" cy="583.94" r="4.4" fill="#f1f1f1" stroke="#222" stroke-width="1.05"/>
<circle cx="466.5" cy="620.08" r="4.4" fill="#f1f1f1" stroke="#222" stroke-width="1.05"/>
<circle cx="508.4" cy="583" r="4.4" fill="#f1f1f1" stroke="#222" stroke-width="1.05"/>
<circle cx="504.45" cy="589.57" r="4.4" fill="#f1f1f1" stroke="#222" stroke-width="1.05"/>
<circle cx="505.77" cy="593.51" r="4.4" fill="#f1f1f1" stroke="#222" stroke-width="1.05"/>
<circle cx="499.86" cy="595.48" r="4.4" fill="#f1f1f1" stroke="#222" stroke-width="1.05"/>
<circle cx="509.71" cy="598.11" r="4.4" fill="#f1f1f1" stroke="#222" stroke-width="1.05"/>
<circle cx="521.54" cy="593.51" r="4.4" fill="#f1f1f1" stroke="#222" stroke-width="1.05"/>
<circle cx="529.42" cy="590.88" r="4.4" fill="#f1f1f1" stroke="#222" stroke-width="1.05"/>
<circle cx="534.68" cy="585.62" r="4.4" fill="#f1f1f1" stroke="#222" stroke-width="1.05"/>
<circle cx="537.3" cy="570.51" r="4.4" fill="#f1f1f1" stroke="#222" stroke-width="1.05"/>
<circle cx="547.82" cy="571.17" r="4.4" fill="#f1f1f1" stroke="#222" stroke-width="1.05"/>
<circle cx="558.33" cy="574.45" r="4.4" fill="#f1f1f1" stroke="#222" stroke-width="1.05"/>
<circle cx="560.96" cy="567.23" r="4.4" fill="#f1f1f1" stroke="#222" stroke-width="1.05"/>
<circle cx="566.21" cy="567.88" r="4.4" fill="#f1f1f1" stroke="#222" stroke-width="1.05"/>
<circle cx="566.21" cy="574.45" r="4.4" fill="#f1f1f1" stroke="#222" stroke-width="1.05"/>
<circle cx="576.72" cy="563.94" r="4.4" fill="#f1f1f1" stroke="#222" stroke-width="1.05"/>
<circle cx="576.72" cy="577.08" r="4.4" fill="#f1f1f1" stroke="#222" stroke-width="1.05"/>
<circle cx="555.7" cy="602.05" r="4.4" fill="#f1f1f1" stroke="#222" stroke-width="1.05"/>
<circle cx="502.48" cy="628.33" r="4.4" fill="#f1f1f1" stroke="#222" stroke-width="1.05"/>
<circle cx="502.48" cy="616.5" r="4.4" fill="#f1f1f1" stroke="#222" stroke-width="1.05"/>
<circle cx="497.88" cy="612.56" r="4.4" fill="#f1f1f1" stroke="#222" stroke-width="1.05"/>
<circle cx="516.28" cy="607.3" r="4.4" fill="#f1f1f1" stroke="#222" stroke-width="1.05"/>
<circle cx="512.34" cy="612.56" r="4.4" fill="#f1f1f1" stroke="#222" stroke-width="1.05"/>
<circle cx="581.83" cy="561.42" r="4.4" fill="#f1f1f1" stroke="#222" stroke-width="1.05"/>
<circle cx="596.28" cy="558.14" r="4.4" fill="#f1f1f1" stroke="#222" stroke-width="1.05"/>
<circle cx="602.85" cy="560.11" r="4.4" fill="#f1f1f1" stroke="#222" stroke-width="1.05"/>
<circle cx="608.11" cy="553.54" r="4.4" fill="#f1f1f1" stroke="#222" stroke-width="1.05"/>
<circle cx="613.36" cy="556.83" r="4.4" fill="#f1f1f1" stroke="#222" stroke-width="1.05"/>
<circle cx="597.59" cy="566.68" r="4.4" fill="#f1f1f1" stroke="#222" stroke-width="1.05"/>
<circle cx="602.19" cy="568" r="4.4" fill="#f1f1f1" stroke="#222" stroke-width="1.05"/>
<circle cx="593" cy="577.85" r="4.4" fill="#f1f1f1" stroke="#222" stroke-width="1.05"/>
<circle cx="634.39" cy="583.76" r="4.4" fill="#f1f1f1" stroke="#222" stroke-width="1.05"/>
<circle cx="644.9" cy="619.24" r="4.4" fill="#f1f1f1" stroke="#222" stroke-width="1.05"/>
<circle cx="638.99" cy="559.45" r="4.4" fill="#f1f1f1" stroke="#222" stroke-width="1.05"/>
<circle cx="528.8" cy="556" r="4.4" fill="#f1f1f1" stroke="#222" stroke-width="1.05"/>
<circle cx="559.64" cy="571.02" r="4.4" fill="#f1f1f1" stroke="#222" stroke-width="1.05"/>
<circle cx="570.88" cy="593" r="4.4" fill="#f1f1f1" stroke="#222" stroke-width="1.05"/>
<circle cx="455.99" cy="633.22" r="4.5" fill="#a0a0a0" stroke="#929292" stroke-width="0.6"/>
<circle cx="466.5" cy="639.79" r="4.5" fill="#a0a0a0" stroke="#929292" stroke-width="0.6"/>
<circle cx="462.56" cy="618.11" r="4.5" fill="#a0a0a0" stroke="#929292" stroke-width="0.6"/>
<circle cx="471.1" cy="622.71" r="4.5" fill="#a0a0a0" stroke="#929292" stroke-width="0.6"/>
<circle cx="476.36" cy="624.68" r="4.5" fill="#a0a0a0" stroke="#929292" stroke-width="0.6"/>
<circle cx="482.27" cy="623.36" r="4.5" fill="#a0a0a0" stroke="#929292" stroke-width="0.6"/>
<circle cx="476.36" cy="633.22" r="4.5" fill="#a0a0a0" stroke="#929292" stroke-width="0.6"/>
<circle cx="482.27" cy="630.59" r="4.5" fill="#a0a0a0" stroke="#929292" stroke-width="0.6"/>
<circle cx="492.12" cy="628.62" r="4.5" fill="#a0a0a0" stroke="#929292" stroke-width="0.6"/>
<circle cx="492.12" cy="617.45" r="4.5" fill="#a0a0a0" stroke="#929292" stroke-width="0.6"/>
<circle cx="492.12" cy="599.71" r="4.5" fill="#a0a0a0" stroke="#929292" stroke-width="0.6"/>
<circle cx="538.62" cy="587.59" r="4.5" fill="#a0a0a0" stroke="#929292" stroke-width="0.6"/>
<circle cx="548.47" cy="586.28" r="4.5" fill="#a0a0a0" stroke="#929292" stroke-width="0.6"/>
<circle cx="555.7" cy="583.65" r="4.5" fill="#a0a0a0" stroke="#929292" stroke-width="0.6"/>
<circle cx="529.42" cy="605.33" r="4.5" fill="#a0a0a0" stroke="#929292" stroke-width="0.6"/>
<circle cx="539.93" cy="603.36" r="4.5" fill="#a0a0a0" stroke="#929292" stroke-width="0.6"/>
<circle cx="518.91" cy="612.56" r="4.5" fill="#a0a0a0" stroke="#929292" stroke-width="0.6"/>
<circle cx="524.16" cy="616.5" r="4.5" fill="#a0a0a0" stroke="#929292" stroke-width="0.6"/>
<circle cx="541.9" cy="613.22" r="4.5" fill="#a0a0a0" stroke="#929292" stroke-width="0.6"/>
<circle cx="549.13" cy="611.9" r="4.5" fill="#a0a0a0" stroke="#929292" stroke-width="0.6"/>
<circle cx="555.7" cy="611.25" r="4.5" fill="#a0a0a0" stroke="#929292" stroke-width="0.6"/>
<circle cx="563.58" cy="610.59" r="4.5" fill="#a0a0a0" stroke="#929292" stroke-width="0.6"/>
<circle cx="570.81" cy="613.87" r="4.5" fill="#a0a0a0" stroke="#929292" stroke-width="0.6"/>
<circle cx="547.82" cy="617.82" r="4.5" fill="#a0a0a0" stroke="#929292" stroke-width="0.6"/>
<circle cx="546.5" cy="623.07" r="4.5" fill="#a0a0a0" stroke="#929292" stroke-width="0.6"/>
<circle cx="553.07" cy="630.96" r="4.5" fill="#a0a0a0" stroke="#929292" stroke-width="0.6"/>
<circle cx="509.71" cy="620.44" r="4.5" fill="#a0a0a0" stroke="#929292" stroke-width="0.6"/>
<circle cx="514.97" cy="619.79" r="4.5" fill="#a0a0a0" stroke="#929292" stroke-width="0.6"/>
<circle cx="509.05" cy="625.7" r="4.5" fill="#a0a0a0" stroke="#929292" stroke-width="0.6"/>
<circle cx="514.31" cy="627.01" r="4.5" fill="#a0a0a0" stroke="#929292" stroke-width="0.6"/>
<circle cx="575.41" cy="599.42" r="4.5" fill="#a0a0a0" stroke="#929292" stroke-width="0.6"/>
<circle cx="574.1" cy="605.33" r="4.5" fill="#a0a0a0" stroke="#929292" stroke-width="0.6"/>
<circle cx="571.47" cy="594.16" r="4.5" fill="#a0a0a0" stroke="#929292" stroke-width="0.6"/>
<circle cx="579.35" cy="573.14" r="4.5" fill="#a0a0a0" stroke="#929292" stroke-width="0.6"/>
<circle cx="608.11" cy="566.02" r="4.5" fill="#a0a0a0" stroke="#929292" stroke-width="0.6"/>
<circle cx="591.68" cy="571.94" r="4.5" fill="#a0a0a0" stroke="#929292" stroke-width="0.6"/>
<circle cx="581.83" cy="574.57" r="4.5" fill="#a0a0a0" stroke="#929292" stroke-width="0.6"/>
<circle cx="613.36" cy="573.91" r="4.5" fill="#a0a0a0" stroke="#929292" stroke-width="0.6"/>
<circle cx="623.87" cy="575.88" r="4.5" fill="#a0a0a0" stroke="#929292" stroke-width="0.6"/>
<circle cx="615.99" cy="580.48" r="4.5" fill="#a0a0a0" stroke="#929292" stroke-width="0.6"/>
<circle cx="623.87" cy="579.82" r="4.5" fill="#a0a0a0" stroke="#929292" stroke-width="0.6"/>
<circle cx="638.33" cy="564.71" r="4.5" fill="#a0a0a0" stroke="#929292" stroke-width="0.6"/>
<circle cx="638.99" cy="558.14" r="4.5" fill="#a0a0a0" stroke="#929292" stroke-width="0.6"/>
<circle cx="649.5" cy="570.62" r="4.5" fill="#a0a0a0" stroke="#929292" stroke-width="0.6"/>
<circle cx="655.41" cy="578.51" r="4.5" fill="#a0a0a0" stroke="#929292" stroke-width="0.6"/>
<circle cx="618.62" cy="590.33" r="4.5" fill="#a0a0a0" stroke="#929292" stroke-width="0.6"/>
<circle cx="608.11" cy="597.56" r="4.5" fill="#a0a0a0" stroke="#929292" stroke-width="0.6"/>
<circle cx="593" cy="598.22" r="4.5" fill="#a0a0a0" stroke="#929292" stroke-width="0.6"/>
<circle cx="589.05" cy="599.53" r="4.5" fill="#a0a0a0" stroke="#929292" stroke-width="0.6"/>
<circle cx="581.17" cy="600.19" r="4.5" fill="#a0a0a0" stroke="#929292" stroke-width="0.6"/>
<circle cx="576.57" cy="608.07" r="4.5" fill="#a0a0a0" stroke="#929292" stroke-width="0.6"/>
<circle cx="600.88" cy="610.7" r="4.5" fill="#a0a0a0" stroke="#929292" stroke-width="0.6"/>
<circle cx="573.94" cy="588.36" r="4.5" fill="#a0a0a0" stroke="#929292" stroke-width="0.6"/>
<circle cx="511.79" cy="624.68" r="4.5" fill="#a0a0a0" stroke="#929292" stroke-width="0.6"/>
<circle cx="529.31" cy="608.91" r="4.5" fill="#a0a0a0" stroke="#929292" stroke-width="0.6"/>
<circle cx="479.38" cy="623.8" r="4.5" fill="#a0a0a0" stroke="#929292" stroke-width="0.6"/>
<circle cx="563.73" cy="587.37" r="4.5" fill="#a0a0a0" stroke="#929292" stroke-width="0.6"/>
<circle cx="569.86" cy="588.4" r="4.5" fill="#a0a0a0" stroke="#929292" stroke-width="0.6"/>
<circle cx="581.1" cy="587.37" r="4.5" fill="#a0a0a0" stroke="#929292" stroke-width="0.6"/>
<circle cx="590.3" cy="582.26" r="4.5" fill="#a0a0a0" stroke="#929292" stroke-width="0.6"/>
<circle cx="546.35" cy="596.57" r="4.5" fill="#a0a0a0" stroke="#929292" stroke-width="0.6"/>
<circle cx="562.7" cy="597.59" r="4.5" fill="#a0a0a0" stroke="#929292" stroke-width="0.6"/>
<circle cx="572.92" cy="596.57" r="4.5" fill="#a0a0a0" stroke="#929292" stroke-width="0.6"/>
<circle cx="578.03" cy="594.53" r="4.5" fill="#a0a0a0" stroke="#929292" stroke-width="0.6"/>
<circle cx="584.17" cy="599.64" r="4.5" fill="#a0a0a0" stroke="#929292" stroke-width="0.6"/>
<circle cx="543.29" cy="610.88" r="4.5" fill="#a0a0a0" stroke="#929292" stroke-width="0.6"/>
<circle cx="551.46" cy="609.86" r="4.5" fill="#a0a0a0" stroke="#929292" stroke-width="0.6"/>
<circle cx="598.47" cy="608.84" r="4.5" fill="#a0a0a0" stroke="#929292" stroke-width="0.6"/>
<line x1="413.9" y1="631.4" x2="655.4" y2="567.6" stroke="#111" stroke-width="1.4"/>
<line x1="413.9" y1="630" x2="641.6" y2="560.1" stroke="#111" stroke-width="2.7" stroke-dasharray="7.4 3.1"/>
<line x1="456" y1="636" x2="654" y2="570" stroke="#5a5a5a" stroke-width="2.6" stroke-dasharray="7.2 3.3"/>
<line x1="408.8" y1="684.8" x2="670.8" y2="684.8" stroke="#2e2e2e" stroke-width="1.8"/>
<line x1="408.8" y1="684.8" x2="408.8" y2="528.3" stroke="#1a1a1a" stroke-width="1.8"/>
<line x1="404.8" y1="684.8" x2="408.8" y2="684.8" stroke="#1a1a1a" stroke-width="1.5"/>
<text x="397.8" y="689.1" text-anchor="end" class="t">0</text>
<line x1="404.8" y1="658.72" x2="408.8" y2="658.72" stroke="#1a1a1a" stroke-width="1.5"/>
<text x="397.8" y="663.02" text-anchor="end" class="t">5</text>
<line x1="404.8" y1="632.63" x2="408.8" y2="632.63" stroke="#1a1a1a" stroke-width="1.5"/>
<text x="397.8" y="636.93" text-anchor="end" class="t">10</text>
<line x1="404.8" y1="606.55" x2="408.8" y2="606.55" stroke="#1a1a1a" stroke-width="1.5"/>
<text x="397.8" y="610.85" text-anchor="end" class="t">15</text>
<line x1="404.8" y1="580.47" x2="408.8" y2="580.47" stroke="#1a1a1a" stroke-width="1.5"/>
<text x="397.8" y="584.77" text-anchor="end" class="t">20</text>
<line x1="404.8" y1="554.38" x2="408.8" y2="554.38" stroke="#1a1a1a" stroke-width="1.5"/>
<text x="397.8" y="558.68" text-anchor="end" class="t">25</text>
<line x1="404.8" y1="528.3" x2="408.8" y2="528.3" stroke="#1a1a1a" stroke-width="1.5"/>
<text x="397.8" y="532.6" text-anchor="end" class="t">30</text>
<line x1="408.8" y1="684.8" x2="408.8" y2="688.8" stroke="#2e2e2e" stroke-width="1.5"/>
<text x="408.8" y="703.4" text-anchor="middle" class="t">85</text>
<line x1="461.2" y1="684.8" x2="461.2" y2="688.8" stroke="#2e2e2e" stroke-width="1.5"/>
<text x="461.2" y="703.4" text-anchor="middle" class="t">95</text>
<line x1="513.6" y1="684.8" x2="513.6" y2="688.8" stroke="#2e2e2e" stroke-width="1.5"/>
<text x="513.6" y="703.4" text-anchor="middle" class="t">105</text>
<line x1="566" y1="684.8" x2="566" y2="688.8" stroke="#2e2e2e" stroke-width="1.5"/>
<text x="566" y="703.4" text-anchor="middle" class="t">115</text>
<line x1="618.4" y1="684.8" x2="618.4" y2="688.8" stroke="#2e2e2e" stroke-width="1.5"/>
<text x="618.4" y="703.4" text-anchor="middle" class="t">125</text>
<line x1="670.8" y1="684.8" x2="670.8" y2="688.8" stroke="#2e2e2e" stroke-width="1.5"/>
<text x="670.8" y="703.4" text-anchor="middle" class="t">135</text>
<text x="539.8" y="718.8" text-anchor="middle" class="t">WC [cm]</text>
<text transform="translate(381,606.55) rotate(-90)" text-anchor="middle" class="t">V<tspan font-size="8.5" dy="3">TAT</tspan><tspan dy="-3"> [L]</tspan></text>
<rect x="476.7" y="565.6" width="43.7" height="13.5" fill="#fff" fill-opacity="0.85"/>
<text x="478.2" y="575.1" class="r" fill="#141414" font-style="italic">r</text>
<text x="481.7" y="577.7" class="r" fill="#141414" style="font-size:5.8px">F</text>
<text x="518.9" y="575.1" class="r" fill="#141414" text-anchor="end">= 0.759</text>
<rect x="640.6" y="552.1" width="45.5" height="13.5" fill="#fff" fill-opacity="0.85"/>
<text x="642.1" y="561.6" class="r" fill="#3c3c3c" font-style="italic">r</text>
<text x="645.6" y="564.2" class="r" fill="#3c3c3c" style="font-size:5.8px">O</text>
<text x="684.6" y="561.6" class="r" fill="#3c3c3c" text-anchor="end">= 0.704</text>
<rect x="572.2" y="617.1" width="45.9" height="13.5" fill="#fff" fill-opacity="0.85"/>
<text x="573.7" y="626.6" class="r" fill="#888888" font-style="italic">r</text>
<text x="577.2" y="629.2" class="r" fill="#888888" style="font-size:5.8px">M</text>
<text x="616.6" y="626.6" class="r" fill="#888888" text-anchor="end">= 0.827</text>
</svg>
</body></html>
